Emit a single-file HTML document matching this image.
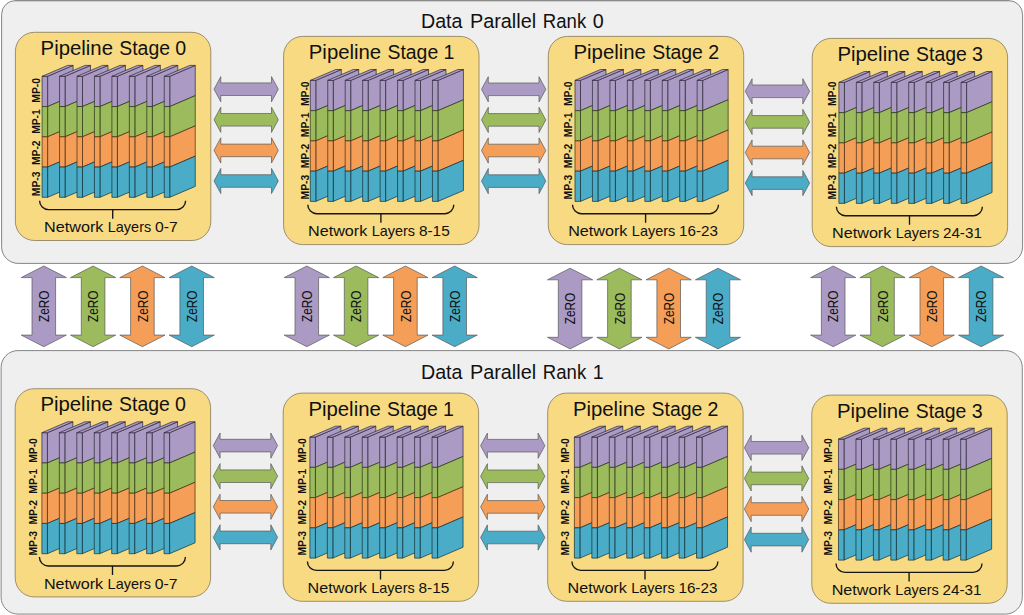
<!DOCTYPE html>
<html lang="en"><head><meta charset="utf-8"><title>3D parallelism</title>
<style>html,body{margin:0;padding:0;background:#fff;}body{width:1024px;height:615px;overflow:hidden;}svg{display:block;}text{font-family:'Liberation Sans', sans-serif;fill:#111;}</style>
</head><body>
<svg width="1024" height="615" viewBox="0 0 1024 615">
<rect x="0" y="0" width="1024" height="615" fill="#fff"/>
<path d="M1.6,30 V14.4 A13.8,13.8 0 0 1 15.4,0.6 H1008.8 A13.8,13.8 0 0 1 1022.6,14.4 V246.8 A16.6,16.6 0 0 1 1006,263.4 H18.2 A16.6,16.6 0 0 1 1.6,246.8 Z" fill="#EFEFEF" stroke="#858585" stroke-width="1"/>
<path d="M15,0.55 H1009" fill="none" stroke="#8a8a8a" stroke-width="1.3"/>
<text y="28.4" font-size="19.7"><tspan x="421" textLength="41.5" lengthAdjust="spacingAndGlyphs">Data</tspan> <tspan x="469.9" textLength="66.3" lengthAdjust="spacingAndGlyphs">Parallel</tspan> <tspan x="542.8" textLength="43.4" lengthAdjust="spacingAndGlyphs">Rank</tspan> <tspan x="598.3" text-anchor="middle">0</tspan></text>
<g transform="translate(15.4,32.3)">
<rect x="0" y="0" width="195.4" height="208.2" rx="19" ry="19" fill="#F8DA82" stroke="#857a58" stroke-width="0.8"/>
<text y="22.5" font-size="19.6"><tspan x="25.2" textLength="72.4" lengthAdjust="spacingAndGlyphs">Pipeline</tspan> <tspan x="103.9" textLength="50.7" lengthAdjust="spacingAndGlyphs">Stage</tspan> <tspan x="165.3" text-anchor="middle">0</tspan></text>
<g stroke-width="0.72" stroke-linejoin="round"><polygon points="32.2,44 57.7,33.1 57.7,63.35 32.2,74.25" fill="#AB9AC3" stroke="#2e2a3a"/><polygon points="32.2,74.25 57.7,63.35 57.7,93.6 32.2,104.5" fill="#9BBB5C" stroke="#2b3618"/><polygon points="32.2,104.5 57.7,93.6 57.7,123.85 32.2,134.75" fill="#F59E57" stroke="#4a2d16"/><polygon points="32.2,134.75 57.7,123.85 57.7,154.1 32.2,165" fill="#4AACC6" stroke="#12323b"/><rect x="26.7" y="44" width="5.5" height="30.25" fill="#AB9AC3" stroke="#2e2a3a"/><rect x="26.7" y="74.25" width="5.5" height="30.25" fill="#9BBB5C" stroke="#2b3618"/><rect x="26.7" y="104.5" width="5.5" height="30.25" fill="#F59E57" stroke="#4a2d16"/><rect x="26.7" y="134.75" width="5.5" height="30.25" fill="#4AACC6" stroke="#12323b"/><polygon points="26.7,44 32.2,44 57.7,33.1 52.2,33.1" fill="#AE9DC6" stroke="#2e2a3a"/><polygon points="49.65,44 75.15,33.1 75.15,63.35 49.65,74.25" fill="#AB9AC3" stroke="#2e2a3a"/><polygon points="49.65,74.25 75.15,63.35 75.15,93.6 49.65,104.5" fill="#9BBB5C" stroke="#2b3618"/><polygon points="49.65,104.5 75.15,93.6 75.15,123.85 49.65,134.75" fill="#F59E57" stroke="#4a2d16"/><polygon points="49.65,134.75 75.15,123.85 75.15,154.1 49.65,165" fill="#4AACC6" stroke="#12323b"/><rect x="44.15" y="44" width="5.5" height="30.25" fill="#AB9AC3" stroke="#2e2a3a"/><rect x="44.15" y="74.25" width="5.5" height="30.25" fill="#9BBB5C" stroke="#2b3618"/><rect x="44.15" y="104.5" width="5.5" height="30.25" fill="#F59E57" stroke="#4a2d16"/><rect x="44.15" y="134.75" width="5.5" height="30.25" fill="#4AACC6" stroke="#12323b"/><polygon points="44.15,44 49.65,44 75.15,33.1 69.65,33.1" fill="#AE9DC6" stroke="#2e2a3a"/><polygon points="67.1,44 92.6,33.1 92.6,63.35 67.1,74.25" fill="#AB9AC3" stroke="#2e2a3a"/><polygon points="67.1,74.25 92.6,63.35 92.6,93.6 67.1,104.5" fill="#9BBB5C" stroke="#2b3618"/><polygon points="67.1,104.5 92.6,93.6 92.6,123.85 67.1,134.75" fill="#F59E57" stroke="#4a2d16"/><polygon points="67.1,134.75 92.6,123.85 92.6,154.1 67.1,165" fill="#4AACC6" stroke="#12323b"/><rect x="61.6" y="44" width="5.5" height="30.25" fill="#AB9AC3" stroke="#2e2a3a"/><rect x="61.6" y="74.25" width="5.5" height="30.25" fill="#9BBB5C" stroke="#2b3618"/><rect x="61.6" y="104.5" width="5.5" height="30.25" fill="#F59E57" stroke="#4a2d16"/><rect x="61.6" y="134.75" width="5.5" height="30.25" fill="#4AACC6" stroke="#12323b"/><polygon points="61.6,44 67.1,44 92.6,33.1 87.1,33.1" fill="#AE9DC6" stroke="#2e2a3a"/><polygon points="84.55,44 110.05,33.1 110.05,63.35 84.55,74.25" fill="#AB9AC3" stroke="#2e2a3a"/><polygon points="84.55,74.25 110.05,63.35 110.05,93.6 84.55,104.5" fill="#9BBB5C" stroke="#2b3618"/><polygon points="84.55,104.5 110.05,93.6 110.05,123.85 84.55,134.75" fill="#F59E57" stroke="#4a2d16"/><polygon points="84.55,134.75 110.05,123.85 110.05,154.1 84.55,165" fill="#4AACC6" stroke="#12323b"/><rect x="79.05" y="44" width="5.5" height="30.25" fill="#AB9AC3" stroke="#2e2a3a"/><rect x="79.05" y="74.25" width="5.5" height="30.25" fill="#9BBB5C" stroke="#2b3618"/><rect x="79.05" y="104.5" width="5.5" height="30.25" fill="#F59E57" stroke="#4a2d16"/><rect x="79.05" y="134.75" width="5.5" height="30.25" fill="#4AACC6" stroke="#12323b"/><polygon points="79.05,44 84.55,44 110.05,33.1 104.55,33.1" fill="#AE9DC6" stroke="#2e2a3a"/><polygon points="102,44 127.5,33.1 127.5,63.35 102,74.25" fill="#AB9AC3" stroke="#2e2a3a"/><polygon points="102,74.25 127.5,63.35 127.5,93.6 102,104.5" fill="#9BBB5C" stroke="#2b3618"/><polygon points="102,104.5 127.5,93.6 127.5,123.85 102,134.75" fill="#F59E57" stroke="#4a2d16"/><polygon points="102,134.75 127.5,123.85 127.5,154.1 102,165" fill="#4AACC6" stroke="#12323b"/><rect x="96.5" y="44" width="5.5" height="30.25" fill="#AB9AC3" stroke="#2e2a3a"/><rect x="96.5" y="74.25" width="5.5" height="30.25" fill="#9BBB5C" stroke="#2b3618"/><rect x="96.5" y="104.5" width="5.5" height="30.25" fill="#F59E57" stroke="#4a2d16"/><rect x="96.5" y="134.75" width="5.5" height="30.25" fill="#4AACC6" stroke="#12323b"/><polygon points="96.5,44 102,44 127.5,33.1 122,33.1" fill="#AE9DC6" stroke="#2e2a3a"/><polygon points="119.45,44 144.95,33.1 144.95,63.35 119.45,74.25" fill="#AB9AC3" stroke="#2e2a3a"/><polygon points="119.45,74.25 144.95,63.35 144.95,93.6 119.45,104.5" fill="#9BBB5C" stroke="#2b3618"/><polygon points="119.45,104.5 144.95,93.6 144.95,123.85 119.45,134.75" fill="#F59E57" stroke="#4a2d16"/><polygon points="119.45,134.75 144.95,123.85 144.95,154.1 119.45,165" fill="#4AACC6" stroke="#12323b"/><rect x="113.95" y="44" width="5.5" height="30.25" fill="#AB9AC3" stroke="#2e2a3a"/><rect x="113.95" y="74.25" width="5.5" height="30.25" fill="#9BBB5C" stroke="#2b3618"/><rect x="113.95" y="104.5" width="5.5" height="30.25" fill="#F59E57" stroke="#4a2d16"/><rect x="113.95" y="134.75" width="5.5" height="30.25" fill="#4AACC6" stroke="#12323b"/><polygon points="113.95,44 119.45,44 144.95,33.1 139.45,33.1" fill="#AE9DC6" stroke="#2e2a3a"/><polygon points="136.9,44 162.4,33.1 162.4,63.35 136.9,74.25" fill="#AB9AC3" stroke="#2e2a3a"/><polygon points="136.9,74.25 162.4,63.35 162.4,93.6 136.9,104.5" fill="#9BBB5C" stroke="#2b3618"/><polygon points="136.9,104.5 162.4,93.6 162.4,123.85 136.9,134.75" fill="#F59E57" stroke="#4a2d16"/><polygon points="136.9,134.75 162.4,123.85 162.4,154.1 136.9,165" fill="#4AACC6" stroke="#12323b"/><rect x="131.4" y="44" width="5.5" height="30.25" fill="#AB9AC3" stroke="#2e2a3a"/><rect x="131.4" y="74.25" width="5.5" height="30.25" fill="#9BBB5C" stroke="#2b3618"/><rect x="131.4" y="104.5" width="5.5" height="30.25" fill="#F59E57" stroke="#4a2d16"/><rect x="131.4" y="134.75" width="5.5" height="30.25" fill="#4AACC6" stroke="#12323b"/><polygon points="131.4,44 136.9,44 162.4,33.1 156.9,33.1" fill="#AE9DC6" stroke="#2e2a3a"/><polygon points="154.35,44 179.85,33.1 179.85,63.35 154.35,74.25" fill="#AB9AC3" stroke="#2e2a3a"/><polygon points="154.35,74.25 179.85,63.35 179.85,93.6 154.35,104.5" fill="#9BBB5C" stroke="#2b3618"/><polygon points="154.35,104.5 179.85,93.6 179.85,123.85 154.35,134.75" fill="#F59E57" stroke="#4a2d16"/><polygon points="154.35,134.75 179.85,123.85 179.85,154.1 154.35,165" fill="#4AACC6" stroke="#12323b"/><rect x="148.85" y="44" width="5.5" height="30.25" fill="#AB9AC3" stroke="#2e2a3a"/><rect x="148.85" y="74.25" width="5.5" height="30.25" fill="#9BBB5C" stroke="#2b3618"/><rect x="148.85" y="104.5" width="5.5" height="30.25" fill="#F59E57" stroke="#4a2d16"/><rect x="148.85" y="134.75" width="5.5" height="30.25" fill="#4AACC6" stroke="#12323b"/><polygon points="148.85,44 154.35,44 179.85,33.1 174.35,33.1" fill="#AE9DC6" stroke="#2e2a3a"/></g>
<path d="M24.2,168.4 A8.9,8.9 0 0 0 33.1,177.3 H161.3 A8.9,8.9 0 0 0 170.2,168.4 M97.3,177.3 V186.4" fill="none" stroke="#151515" stroke-width="1.35"/>
<text y="200" font-size="14.4"><tspan x="28.7" textLength="59.3" lengthAdjust="spacingAndGlyphs">Network</tspan> <tspan x="92.4" textLength="43.4" lengthAdjust="spacingAndGlyphs">Layers</tspan> <tspan x="139.6" textLength="22.8" lengthAdjust="spacingAndGlyphs">0-7</tspan></text>
</g>
<text transform="translate(39.5,90.4) rotate(-90)" font-size="10" font-weight="bold" text-anchor="middle" textLength="24.6" lengthAdjust="spacingAndGlyphs">MP-0</text>
<text transform="translate(39.5,121.55) rotate(-90)" font-size="10" font-weight="bold" text-anchor="middle" textLength="24.6" lengthAdjust="spacingAndGlyphs">MP-1</text>
<text transform="translate(39.5,152.7) rotate(-90)" font-size="10" font-weight="bold" text-anchor="middle" textLength="24.6" lengthAdjust="spacingAndGlyphs">MP-2</text>
<text transform="translate(39.5,183.85) rotate(-90)" font-size="10" font-weight="bold" text-anchor="middle" textLength="24.6" lengthAdjust="spacingAndGlyphs">MP-3</text>
<g transform="translate(283.6,36.4)">
<rect x="0" y="0" width="195.4" height="208.2" rx="19" ry="19" fill="#F8DA82" stroke="#857a58" stroke-width="0.8"/>
<text y="22.5" font-size="19.6"><tspan x="25.2" textLength="72.4" lengthAdjust="spacingAndGlyphs">Pipeline</tspan> <tspan x="103.9" textLength="50.7" lengthAdjust="spacingAndGlyphs">Stage</tspan> <tspan x="165.3" text-anchor="middle">1</tspan></text>
<g stroke-width="0.72" stroke-linejoin="round"><polygon points="32.2,44 57.7,33.1 57.7,63.35 32.2,74.25" fill="#AB9AC3" stroke="#2e2a3a"/><polygon points="32.2,74.25 57.7,63.35 57.7,93.6 32.2,104.5" fill="#9BBB5C" stroke="#2b3618"/><polygon points="32.2,104.5 57.7,93.6 57.7,123.85 32.2,134.75" fill="#F59E57" stroke="#4a2d16"/><polygon points="32.2,134.75 57.7,123.85 57.7,154.1 32.2,165" fill="#4AACC6" stroke="#12323b"/><rect x="26.7" y="44" width="5.5" height="30.25" fill="#AB9AC3" stroke="#2e2a3a"/><rect x="26.7" y="74.25" width="5.5" height="30.25" fill="#9BBB5C" stroke="#2b3618"/><rect x="26.7" y="104.5" width="5.5" height="30.25" fill="#F59E57" stroke="#4a2d16"/><rect x="26.7" y="134.75" width="5.5" height="30.25" fill="#4AACC6" stroke="#12323b"/><polygon points="26.7,44 32.2,44 57.7,33.1 52.2,33.1" fill="#AE9DC6" stroke="#2e2a3a"/><polygon points="49.65,44 75.15,33.1 75.15,63.35 49.65,74.25" fill="#AB9AC3" stroke="#2e2a3a"/><polygon points="49.65,74.25 75.15,63.35 75.15,93.6 49.65,104.5" fill="#9BBB5C" stroke="#2b3618"/><polygon points="49.65,104.5 75.15,93.6 75.15,123.85 49.65,134.75" fill="#F59E57" stroke="#4a2d16"/><polygon points="49.65,134.75 75.15,123.85 75.15,154.1 49.65,165" fill="#4AACC6" stroke="#12323b"/><rect x="44.15" y="44" width="5.5" height="30.25" fill="#AB9AC3" stroke="#2e2a3a"/><rect x="44.15" y="74.25" width="5.5" height="30.25" fill="#9BBB5C" stroke="#2b3618"/><rect x="44.15" y="104.5" width="5.5" height="30.25" fill="#F59E57" stroke="#4a2d16"/><rect x="44.15" y="134.75" width="5.5" height="30.25" fill="#4AACC6" stroke="#12323b"/><polygon points="44.15,44 49.65,44 75.15,33.1 69.65,33.1" fill="#AE9DC6" stroke="#2e2a3a"/><polygon points="67.1,44 92.6,33.1 92.6,63.35 67.1,74.25" fill="#AB9AC3" stroke="#2e2a3a"/><polygon points="67.1,74.25 92.6,63.35 92.6,93.6 67.1,104.5" fill="#9BBB5C" stroke="#2b3618"/><polygon points="67.1,104.5 92.6,93.6 92.6,123.85 67.1,134.75" fill="#F59E57" stroke="#4a2d16"/><polygon points="67.1,134.75 92.6,123.85 92.6,154.1 67.1,165" fill="#4AACC6" stroke="#12323b"/><rect x="61.6" y="44" width="5.5" height="30.25" fill="#AB9AC3" stroke="#2e2a3a"/><rect x="61.6" y="74.25" width="5.5" height="30.25" fill="#9BBB5C" stroke="#2b3618"/><rect x="61.6" y="104.5" width="5.5" height="30.25" fill="#F59E57" stroke="#4a2d16"/><rect x="61.6" y="134.75" width="5.5" height="30.25" fill="#4AACC6" stroke="#12323b"/><polygon points="61.6,44 67.1,44 92.6,33.1 87.1,33.1" fill="#AE9DC6" stroke="#2e2a3a"/><polygon points="84.55,44 110.05,33.1 110.05,63.35 84.55,74.25" fill="#AB9AC3" stroke="#2e2a3a"/><polygon points="84.55,74.25 110.05,63.35 110.05,93.6 84.55,104.5" fill="#9BBB5C" stroke="#2b3618"/><polygon points="84.55,104.5 110.05,93.6 110.05,123.85 84.55,134.75" fill="#F59E57" stroke="#4a2d16"/><polygon points="84.55,134.75 110.05,123.85 110.05,154.1 84.55,165" fill="#4AACC6" stroke="#12323b"/><rect x="79.05" y="44" width="5.5" height="30.25" fill="#AB9AC3" stroke="#2e2a3a"/><rect x="79.05" y="74.25" width="5.5" height="30.25" fill="#9BBB5C" stroke="#2b3618"/><rect x="79.05" y="104.5" width="5.5" height="30.25" fill="#F59E57" stroke="#4a2d16"/><rect x="79.05" y="134.75" width="5.5" height="30.25" fill="#4AACC6" stroke="#12323b"/><polygon points="79.05,44 84.55,44 110.05,33.1 104.55,33.1" fill="#AE9DC6" stroke="#2e2a3a"/><polygon points="102,44 127.5,33.1 127.5,63.35 102,74.25" fill="#AB9AC3" stroke="#2e2a3a"/><polygon points="102,74.25 127.5,63.35 127.5,93.6 102,104.5" fill="#9BBB5C" stroke="#2b3618"/><polygon points="102,104.5 127.5,93.6 127.5,123.85 102,134.75" fill="#F59E57" stroke="#4a2d16"/><polygon points="102,134.75 127.5,123.85 127.5,154.1 102,165" fill="#4AACC6" stroke="#12323b"/><rect x="96.5" y="44" width="5.5" height="30.25" fill="#AB9AC3" stroke="#2e2a3a"/><rect x="96.5" y="74.25" width="5.5" height="30.25" fill="#9BBB5C" stroke="#2b3618"/><rect x="96.5" y="104.5" width="5.5" height="30.25" fill="#F59E57" stroke="#4a2d16"/><rect x="96.5" y="134.75" width="5.5" height="30.25" fill="#4AACC6" stroke="#12323b"/><polygon points="96.5,44 102,44 127.5,33.1 122,33.1" fill="#AE9DC6" stroke="#2e2a3a"/><polygon points="119.45,44 144.95,33.1 144.95,63.35 119.45,74.25" fill="#AB9AC3" stroke="#2e2a3a"/><polygon points="119.45,74.25 144.95,63.35 144.95,93.6 119.45,104.5" fill="#9BBB5C" stroke="#2b3618"/><polygon points="119.45,104.5 144.95,93.6 144.95,123.85 119.45,134.75" fill="#F59E57" stroke="#4a2d16"/><polygon points="119.45,134.75 144.95,123.85 144.95,154.1 119.45,165" fill="#4AACC6" stroke="#12323b"/><rect x="113.95" y="44" width="5.5" height="30.25" fill="#AB9AC3" stroke="#2e2a3a"/><rect x="113.95" y="74.25" width="5.5" height="30.25" fill="#9BBB5C" stroke="#2b3618"/><rect x="113.95" y="104.5" width="5.5" height="30.25" fill="#F59E57" stroke="#4a2d16"/><rect x="113.95" y="134.75" width="5.5" height="30.25" fill="#4AACC6" stroke="#12323b"/><polygon points="113.95,44 119.45,44 144.95,33.1 139.45,33.1" fill="#AE9DC6" stroke="#2e2a3a"/><polygon points="136.9,44 162.4,33.1 162.4,63.35 136.9,74.25" fill="#AB9AC3" stroke="#2e2a3a"/><polygon points="136.9,74.25 162.4,63.35 162.4,93.6 136.9,104.5" fill="#9BBB5C" stroke="#2b3618"/><polygon points="136.9,104.5 162.4,93.6 162.4,123.85 136.9,134.75" fill="#F59E57" stroke="#4a2d16"/><polygon points="136.9,134.75 162.4,123.85 162.4,154.1 136.9,165" fill="#4AACC6" stroke="#12323b"/><rect x="131.4" y="44" width="5.5" height="30.25" fill="#AB9AC3" stroke="#2e2a3a"/><rect x="131.4" y="74.25" width="5.5" height="30.25" fill="#9BBB5C" stroke="#2b3618"/><rect x="131.4" y="104.5" width="5.5" height="30.25" fill="#F59E57" stroke="#4a2d16"/><rect x="131.4" y="134.75" width="5.5" height="30.25" fill="#4AACC6" stroke="#12323b"/><polygon points="131.4,44 136.9,44 162.4,33.1 156.9,33.1" fill="#AE9DC6" stroke="#2e2a3a"/><polygon points="154.35,44 179.85,33.1 179.85,63.35 154.35,74.25" fill="#AB9AC3" stroke="#2e2a3a"/><polygon points="154.35,74.25 179.85,63.35 179.85,93.6 154.35,104.5" fill="#9BBB5C" stroke="#2b3618"/><polygon points="154.35,104.5 179.85,93.6 179.85,123.85 154.35,134.75" fill="#F59E57" stroke="#4a2d16"/><polygon points="154.35,134.75 179.85,123.85 179.85,154.1 154.35,165" fill="#4AACC6" stroke="#12323b"/><rect x="148.85" y="44" width="5.5" height="30.25" fill="#AB9AC3" stroke="#2e2a3a"/><rect x="148.85" y="74.25" width="5.5" height="30.25" fill="#9BBB5C" stroke="#2b3618"/><rect x="148.85" y="104.5" width="5.5" height="30.25" fill="#F59E57" stroke="#4a2d16"/><rect x="148.85" y="134.75" width="5.5" height="30.25" fill="#4AACC6" stroke="#12323b"/><polygon points="148.85,44 154.35,44 179.85,33.1 174.35,33.1" fill="#AE9DC6" stroke="#2e2a3a"/></g>
<path d="M24.2,168.4 A8.9,8.9 0 0 0 33.1,177.3 H161.3 A8.9,8.9 0 0 0 170.2,168.4 M97.3,177.3 V186.4" fill="none" stroke="#151515" stroke-width="1.35"/>
<text y="200" font-size="14.4"><tspan x="24.4" textLength="59.3" lengthAdjust="spacingAndGlyphs">Network</tspan> <tspan x="88.1" textLength="43.4" lengthAdjust="spacingAndGlyphs">Layers</tspan> <tspan x="135.3" textLength="30.8" lengthAdjust="spacingAndGlyphs">8-15</tspan></text>
</g>
<text transform="translate(308.8,93.7) rotate(-90)" font-size="10" font-weight="bold" text-anchor="middle" textLength="24.6" lengthAdjust="spacingAndGlyphs">MP-0</text>
<text transform="translate(308.8,124.85) rotate(-90)" font-size="10" font-weight="bold" text-anchor="middle" textLength="24.6" lengthAdjust="spacingAndGlyphs">MP-1</text>
<text transform="translate(308.8,156) rotate(-90)" font-size="10" font-weight="bold" text-anchor="middle" textLength="24.6" lengthAdjust="spacingAndGlyphs">MP-2</text>
<text transform="translate(308.8,187.15) rotate(-90)" font-size="10" font-weight="bold" text-anchor="middle" textLength="24.6" lengthAdjust="spacingAndGlyphs">MP-3</text>
<g transform="translate(548.3,36.4)">
<rect x="0" y="0" width="195.4" height="208.2" rx="19" ry="19" fill="#F8DA82" stroke="#857a58" stroke-width="0.8"/>
<text y="22.5" font-size="19.6"><tspan x="25.2" textLength="72.4" lengthAdjust="spacingAndGlyphs">Pipeline</tspan> <tspan x="103.9" textLength="50.7" lengthAdjust="spacingAndGlyphs">Stage</tspan> <tspan x="165.3" text-anchor="middle">2</tspan></text>
<g stroke-width="0.72" stroke-linejoin="round"><polygon points="32.2,44 57.7,33.1 57.7,63.35 32.2,74.25" fill="#AB9AC3" stroke="#2e2a3a"/><polygon points="32.2,74.25 57.7,63.35 57.7,93.6 32.2,104.5" fill="#9BBB5C" stroke="#2b3618"/><polygon points="32.2,104.5 57.7,93.6 57.7,123.85 32.2,134.75" fill="#F59E57" stroke="#4a2d16"/><polygon points="32.2,134.75 57.7,123.85 57.7,154.1 32.2,165" fill="#4AACC6" stroke="#12323b"/><rect x="26.7" y="44" width="5.5" height="30.25" fill="#AB9AC3" stroke="#2e2a3a"/><rect x="26.7" y="74.25" width="5.5" height="30.25" fill="#9BBB5C" stroke="#2b3618"/><rect x="26.7" y="104.5" width="5.5" height="30.25" fill="#F59E57" stroke="#4a2d16"/><rect x="26.7" y="134.75" width="5.5" height="30.25" fill="#4AACC6" stroke="#12323b"/><polygon points="26.7,44 32.2,44 57.7,33.1 52.2,33.1" fill="#AE9DC6" stroke="#2e2a3a"/><polygon points="49.65,44 75.15,33.1 75.15,63.35 49.65,74.25" fill="#AB9AC3" stroke="#2e2a3a"/><polygon points="49.65,74.25 75.15,63.35 75.15,93.6 49.65,104.5" fill="#9BBB5C" stroke="#2b3618"/><polygon points="49.65,104.5 75.15,93.6 75.15,123.85 49.65,134.75" fill="#F59E57" stroke="#4a2d16"/><polygon points="49.65,134.75 75.15,123.85 75.15,154.1 49.65,165" fill="#4AACC6" stroke="#12323b"/><rect x="44.15" y="44" width="5.5" height="30.25" fill="#AB9AC3" stroke="#2e2a3a"/><rect x="44.15" y="74.25" width="5.5" height="30.25" fill="#9BBB5C" stroke="#2b3618"/><rect x="44.15" y="104.5" width="5.5" height="30.25" fill="#F59E57" stroke="#4a2d16"/><rect x="44.15" y="134.75" width="5.5" height="30.25" fill="#4AACC6" stroke="#12323b"/><polygon points="44.15,44 49.65,44 75.15,33.1 69.65,33.1" fill="#AE9DC6" stroke="#2e2a3a"/><polygon points="67.1,44 92.6,33.1 92.6,63.35 67.1,74.25" fill="#AB9AC3" stroke="#2e2a3a"/><polygon points="67.1,74.25 92.6,63.35 92.6,93.6 67.1,104.5" fill="#9BBB5C" stroke="#2b3618"/><polygon points="67.1,104.5 92.6,93.6 92.6,123.85 67.1,134.75" fill="#F59E57" stroke="#4a2d16"/><polygon points="67.1,134.75 92.6,123.85 92.6,154.1 67.1,165" fill="#4AACC6" stroke="#12323b"/><rect x="61.6" y="44" width="5.5" height="30.25" fill="#AB9AC3" stroke="#2e2a3a"/><rect x="61.6" y="74.25" width="5.5" height="30.25" fill="#9BBB5C" stroke="#2b3618"/><rect x="61.6" y="104.5" width="5.5" height="30.25" fill="#F59E57" stroke="#4a2d16"/><rect x="61.6" y="134.75" width="5.5" height="30.25" fill="#4AACC6" stroke="#12323b"/><polygon points="61.6,44 67.1,44 92.6,33.1 87.1,33.1" fill="#AE9DC6" stroke="#2e2a3a"/><polygon points="84.55,44 110.05,33.1 110.05,63.35 84.55,74.25" fill="#AB9AC3" stroke="#2e2a3a"/><polygon points="84.55,74.25 110.05,63.35 110.05,93.6 84.55,104.5" fill="#9BBB5C" stroke="#2b3618"/><polygon points="84.55,104.5 110.05,93.6 110.05,123.85 84.55,134.75" fill="#F59E57" stroke="#4a2d16"/><polygon points="84.55,134.75 110.05,123.85 110.05,154.1 84.55,165" fill="#4AACC6" stroke="#12323b"/><rect x="79.05" y="44" width="5.5" height="30.25" fill="#AB9AC3" stroke="#2e2a3a"/><rect x="79.05" y="74.25" width="5.5" height="30.25" fill="#9BBB5C" stroke="#2b3618"/><rect x="79.05" y="104.5" width="5.5" height="30.25" fill="#F59E57" stroke="#4a2d16"/><rect x="79.05" y="134.75" width="5.5" height="30.25" fill="#4AACC6" stroke="#12323b"/><polygon points="79.05,44 84.55,44 110.05,33.1 104.55,33.1" fill="#AE9DC6" stroke="#2e2a3a"/><polygon points="102,44 127.5,33.1 127.5,63.35 102,74.25" fill="#AB9AC3" stroke="#2e2a3a"/><polygon points="102,74.25 127.5,63.35 127.5,93.6 102,104.5" fill="#9BBB5C" stroke="#2b3618"/><polygon points="102,104.5 127.5,93.6 127.5,123.85 102,134.75" fill="#F59E57" stroke="#4a2d16"/><polygon points="102,134.75 127.5,123.85 127.5,154.1 102,165" fill="#4AACC6" stroke="#12323b"/><rect x="96.5" y="44" width="5.5" height="30.25" fill="#AB9AC3" stroke="#2e2a3a"/><rect x="96.5" y="74.25" width="5.5" height="30.25" fill="#9BBB5C" stroke="#2b3618"/><rect x="96.5" y="104.5" width="5.5" height="30.25" fill="#F59E57" stroke="#4a2d16"/><rect x="96.5" y="134.75" width="5.5" height="30.25" fill="#4AACC6" stroke="#12323b"/><polygon points="96.5,44 102,44 127.5,33.1 122,33.1" fill="#AE9DC6" stroke="#2e2a3a"/><polygon points="119.45,44 144.95,33.1 144.95,63.35 119.45,74.25" fill="#AB9AC3" stroke="#2e2a3a"/><polygon points="119.45,74.25 144.95,63.35 144.95,93.6 119.45,104.5" fill="#9BBB5C" stroke="#2b3618"/><polygon points="119.45,104.5 144.95,93.6 144.95,123.85 119.45,134.75" fill="#F59E57" stroke="#4a2d16"/><polygon points="119.45,134.75 144.95,123.85 144.95,154.1 119.45,165" fill="#4AACC6" stroke="#12323b"/><rect x="113.95" y="44" width="5.5" height="30.25" fill="#AB9AC3" stroke="#2e2a3a"/><rect x="113.95" y="74.25" width="5.5" height="30.25" fill="#9BBB5C" stroke="#2b3618"/><rect x="113.95" y="104.5" width="5.5" height="30.25" fill="#F59E57" stroke="#4a2d16"/><rect x="113.95" y="134.75" width="5.5" height="30.25" fill="#4AACC6" stroke="#12323b"/><polygon points="113.95,44 119.45,44 144.95,33.1 139.45,33.1" fill="#AE9DC6" stroke="#2e2a3a"/><polygon points="136.9,44 162.4,33.1 162.4,63.35 136.9,74.25" fill="#AB9AC3" stroke="#2e2a3a"/><polygon points="136.9,74.25 162.4,63.35 162.4,93.6 136.9,104.5" fill="#9BBB5C" stroke="#2b3618"/><polygon points="136.9,104.5 162.4,93.6 162.4,123.85 136.9,134.75" fill="#F59E57" stroke="#4a2d16"/><polygon points="136.9,134.75 162.4,123.85 162.4,154.1 136.9,165" fill="#4AACC6" stroke="#12323b"/><rect x="131.4" y="44" width="5.5" height="30.25" fill="#AB9AC3" stroke="#2e2a3a"/><rect x="131.4" y="74.25" width="5.5" height="30.25" fill="#9BBB5C" stroke="#2b3618"/><rect x="131.4" y="104.5" width="5.5" height="30.25" fill="#F59E57" stroke="#4a2d16"/><rect x="131.4" y="134.75" width="5.5" height="30.25" fill="#4AACC6" stroke="#12323b"/><polygon points="131.4,44 136.9,44 162.4,33.1 156.9,33.1" fill="#AE9DC6" stroke="#2e2a3a"/><polygon points="154.35,44 179.85,33.1 179.85,63.35 154.35,74.25" fill="#AB9AC3" stroke="#2e2a3a"/><polygon points="154.35,74.25 179.85,63.35 179.85,93.6 154.35,104.5" fill="#9BBB5C" stroke="#2b3618"/><polygon points="154.35,104.5 179.85,93.6 179.85,123.85 154.35,134.75" fill="#F59E57" stroke="#4a2d16"/><polygon points="154.35,134.75 179.85,123.85 179.85,154.1 154.35,165" fill="#4AACC6" stroke="#12323b"/><rect x="148.85" y="44" width="5.5" height="30.25" fill="#AB9AC3" stroke="#2e2a3a"/><rect x="148.85" y="74.25" width="5.5" height="30.25" fill="#9BBB5C" stroke="#2b3618"/><rect x="148.85" y="104.5" width="5.5" height="30.25" fill="#F59E57" stroke="#4a2d16"/><rect x="148.85" y="134.75" width="5.5" height="30.25" fill="#4AACC6" stroke="#12323b"/><polygon points="148.85,44 154.35,44 179.85,33.1 174.35,33.1" fill="#AE9DC6" stroke="#2e2a3a"/></g>
<path d="M24.2,168.4 A8.9,8.9 0 0 0 33.1,177.3 H161.3 A8.9,8.9 0 0 0 170.2,168.4 M97.3,177.3 V186.4" fill="none" stroke="#151515" stroke-width="1.35"/>
<text y="200" font-size="14.4"><tspan x="19.85" textLength="59.3" lengthAdjust="spacingAndGlyphs">Network</tspan> <tspan x="83.55" textLength="43.4" lengthAdjust="spacingAndGlyphs">Layers</tspan> <tspan x="130.75" textLength="38.9" lengthAdjust="spacingAndGlyphs">16-23</tspan></text>
</g>
<text transform="translate(571.9,93.7) rotate(-90)" font-size="10" font-weight="bold" text-anchor="middle" textLength="24.6" lengthAdjust="spacingAndGlyphs">MP-0</text>
<text transform="translate(571.9,124.85) rotate(-90)" font-size="10" font-weight="bold" text-anchor="middle" textLength="24.6" lengthAdjust="spacingAndGlyphs">MP-1</text>
<text transform="translate(571.9,156) rotate(-90)" font-size="10" font-weight="bold" text-anchor="middle" textLength="24.6" lengthAdjust="spacingAndGlyphs">MP-2</text>
<text transform="translate(571.9,187.15) rotate(-90)" font-size="10" font-weight="bold" text-anchor="middle" textLength="24.6" lengthAdjust="spacingAndGlyphs">MP-3</text>
<g transform="translate(812.2,38.4)">
<rect x="0" y="0" width="195.4" height="208.2" rx="19" ry="19" fill="#F8DA82" stroke="#857a58" stroke-width="0.8"/>
<text y="22.5" font-size="19.6"><tspan x="25.2" textLength="72.4" lengthAdjust="spacingAndGlyphs">Pipeline</tspan> <tspan x="103.9" textLength="50.7" lengthAdjust="spacingAndGlyphs">Stage</tspan> <tspan x="165.3" text-anchor="middle">3</tspan></text>
<g stroke-width="0.72" stroke-linejoin="round"><polygon points="32.2,44 57.7,33.1 57.7,63.35 32.2,74.25" fill="#AB9AC3" stroke="#2e2a3a"/><polygon points="32.2,74.25 57.7,63.35 57.7,93.6 32.2,104.5" fill="#9BBB5C" stroke="#2b3618"/><polygon points="32.2,104.5 57.7,93.6 57.7,123.85 32.2,134.75" fill="#F59E57" stroke="#4a2d16"/><polygon points="32.2,134.75 57.7,123.85 57.7,154.1 32.2,165" fill="#4AACC6" stroke="#12323b"/><rect x="26.7" y="44" width="5.5" height="30.25" fill="#AB9AC3" stroke="#2e2a3a"/><rect x="26.7" y="74.25" width="5.5" height="30.25" fill="#9BBB5C" stroke="#2b3618"/><rect x="26.7" y="104.5" width="5.5" height="30.25" fill="#F59E57" stroke="#4a2d16"/><rect x="26.7" y="134.75" width="5.5" height="30.25" fill="#4AACC6" stroke="#12323b"/><polygon points="26.7,44 32.2,44 57.7,33.1 52.2,33.1" fill="#AE9DC6" stroke="#2e2a3a"/><polygon points="49.65,44 75.15,33.1 75.15,63.35 49.65,74.25" fill="#AB9AC3" stroke="#2e2a3a"/><polygon points="49.65,74.25 75.15,63.35 75.15,93.6 49.65,104.5" fill="#9BBB5C" stroke="#2b3618"/><polygon points="49.65,104.5 75.15,93.6 75.15,123.85 49.65,134.75" fill="#F59E57" stroke="#4a2d16"/><polygon points="49.65,134.75 75.15,123.85 75.15,154.1 49.65,165" fill="#4AACC6" stroke="#12323b"/><rect x="44.15" y="44" width="5.5" height="30.25" fill="#AB9AC3" stroke="#2e2a3a"/><rect x="44.15" y="74.25" width="5.5" height="30.25" fill="#9BBB5C" stroke="#2b3618"/><rect x="44.15" y="104.5" width="5.5" height="30.25" fill="#F59E57" stroke="#4a2d16"/><rect x="44.15" y="134.75" width="5.5" height="30.25" fill="#4AACC6" stroke="#12323b"/><polygon points="44.15,44 49.65,44 75.15,33.1 69.65,33.1" fill="#AE9DC6" stroke="#2e2a3a"/><polygon points="67.1,44 92.6,33.1 92.6,63.35 67.1,74.25" fill="#AB9AC3" stroke="#2e2a3a"/><polygon points="67.1,74.25 92.6,63.35 92.6,93.6 67.1,104.5" fill="#9BBB5C" stroke="#2b3618"/><polygon points="67.1,104.5 92.6,93.6 92.6,123.85 67.1,134.75" fill="#F59E57" stroke="#4a2d16"/><polygon points="67.1,134.75 92.6,123.85 92.6,154.1 67.1,165" fill="#4AACC6" stroke="#12323b"/><rect x="61.6" y="44" width="5.5" height="30.25" fill="#AB9AC3" stroke="#2e2a3a"/><rect x="61.6" y="74.25" width="5.5" height="30.25" fill="#9BBB5C" stroke="#2b3618"/><rect x="61.6" y="104.5" width="5.5" height="30.25" fill="#F59E57" stroke="#4a2d16"/><rect x="61.6" y="134.75" width="5.5" height="30.25" fill="#4AACC6" stroke="#12323b"/><polygon points="61.6,44 67.1,44 92.6,33.1 87.1,33.1" fill="#AE9DC6" stroke="#2e2a3a"/><polygon points="84.55,44 110.05,33.1 110.05,63.35 84.55,74.25" fill="#AB9AC3" stroke="#2e2a3a"/><polygon points="84.55,74.25 110.05,63.35 110.05,93.6 84.55,104.5" fill="#9BBB5C" stroke="#2b3618"/><polygon points="84.55,104.5 110.05,93.6 110.05,123.85 84.55,134.75" fill="#F59E57" stroke="#4a2d16"/><polygon points="84.55,134.75 110.05,123.85 110.05,154.1 84.55,165" fill="#4AACC6" stroke="#12323b"/><rect x="79.05" y="44" width="5.5" height="30.25" fill="#AB9AC3" stroke="#2e2a3a"/><rect x="79.05" y="74.25" width="5.5" height="30.25" fill="#9BBB5C" stroke="#2b3618"/><rect x="79.05" y="104.5" width="5.5" height="30.25" fill="#F59E57" stroke="#4a2d16"/><rect x="79.05" y="134.75" width="5.5" height="30.25" fill="#4AACC6" stroke="#12323b"/><polygon points="79.05,44 84.55,44 110.05,33.1 104.55,33.1" fill="#AE9DC6" stroke="#2e2a3a"/><polygon points="102,44 127.5,33.1 127.5,63.35 102,74.25" fill="#AB9AC3" stroke="#2e2a3a"/><polygon points="102,74.25 127.5,63.35 127.5,93.6 102,104.5" fill="#9BBB5C" stroke="#2b3618"/><polygon points="102,104.5 127.5,93.6 127.5,123.85 102,134.75" fill="#F59E57" stroke="#4a2d16"/><polygon points="102,134.75 127.5,123.85 127.5,154.1 102,165" fill="#4AACC6" stroke="#12323b"/><rect x="96.5" y="44" width="5.5" height="30.25" fill="#AB9AC3" stroke="#2e2a3a"/><rect x="96.5" y="74.25" width="5.5" height="30.25" fill="#9BBB5C" stroke="#2b3618"/><rect x="96.5" y="104.5" width="5.5" height="30.25" fill="#F59E57" stroke="#4a2d16"/><rect x="96.5" y="134.75" width="5.5" height="30.25" fill="#4AACC6" stroke="#12323b"/><polygon points="96.5,44 102,44 127.5,33.1 122,33.1" fill="#AE9DC6" stroke="#2e2a3a"/><polygon points="119.45,44 144.95,33.1 144.95,63.35 119.45,74.25" fill="#AB9AC3" stroke="#2e2a3a"/><polygon points="119.45,74.25 144.95,63.35 144.95,93.6 119.45,104.5" fill="#9BBB5C" stroke="#2b3618"/><polygon points="119.45,104.5 144.95,93.6 144.95,123.85 119.45,134.75" fill="#F59E57" stroke="#4a2d16"/><polygon points="119.45,134.75 144.95,123.85 144.95,154.1 119.45,165" fill="#4AACC6" stroke="#12323b"/><rect x="113.95" y="44" width="5.5" height="30.25" fill="#AB9AC3" stroke="#2e2a3a"/><rect x="113.95" y="74.25" width="5.5" height="30.25" fill="#9BBB5C" stroke="#2b3618"/><rect x="113.95" y="104.5" width="5.5" height="30.25" fill="#F59E57" stroke="#4a2d16"/><rect x="113.95" y="134.75" width="5.5" height="30.25" fill="#4AACC6" stroke="#12323b"/><polygon points="113.95,44 119.45,44 144.95,33.1 139.45,33.1" fill="#AE9DC6" stroke="#2e2a3a"/><polygon points="136.9,44 162.4,33.1 162.4,63.35 136.9,74.25" fill="#AB9AC3" stroke="#2e2a3a"/><polygon points="136.9,74.25 162.4,63.35 162.4,93.6 136.9,104.5" fill="#9BBB5C" stroke="#2b3618"/><polygon points="136.9,104.5 162.4,93.6 162.4,123.85 136.9,134.75" fill="#F59E57" stroke="#4a2d16"/><polygon points="136.9,134.75 162.4,123.85 162.4,154.1 136.9,165" fill="#4AACC6" stroke="#12323b"/><rect x="131.4" y="44" width="5.5" height="30.25" fill="#AB9AC3" stroke="#2e2a3a"/><rect x="131.4" y="74.25" width="5.5" height="30.25" fill="#9BBB5C" stroke="#2b3618"/><rect x="131.4" y="104.5" width="5.5" height="30.25" fill="#F59E57" stroke="#4a2d16"/><rect x="131.4" y="134.75" width="5.5" height="30.25" fill="#4AACC6" stroke="#12323b"/><polygon points="131.4,44 136.9,44 162.4,33.1 156.9,33.1" fill="#AE9DC6" stroke="#2e2a3a"/><polygon points="154.35,44 179.85,33.1 179.85,63.35 154.35,74.25" fill="#AB9AC3" stroke="#2e2a3a"/><polygon points="154.35,74.25 179.85,63.35 179.85,93.6 154.35,104.5" fill="#9BBB5C" stroke="#2b3618"/><polygon points="154.35,104.5 179.85,93.6 179.85,123.85 154.35,134.75" fill="#F59E57" stroke="#4a2d16"/><polygon points="154.35,134.75 179.85,123.85 179.85,154.1 154.35,165" fill="#4AACC6" stroke="#12323b"/><rect x="148.85" y="44" width="5.5" height="30.25" fill="#AB9AC3" stroke="#2e2a3a"/><rect x="148.85" y="74.25" width="5.5" height="30.25" fill="#9BBB5C" stroke="#2b3618"/><rect x="148.85" y="104.5" width="5.5" height="30.25" fill="#F59E57" stroke="#4a2d16"/><rect x="148.85" y="134.75" width="5.5" height="30.25" fill="#4AACC6" stroke="#12323b"/><polygon points="148.85,44 154.35,44 179.85,33.1 174.35,33.1" fill="#AE9DC6" stroke="#2e2a3a"/></g>
<path d="M24.2,168.4 A8.9,8.9 0 0 0 33.1,177.3 H161.3 A8.9,8.9 0 0 0 170.2,168.4 M97.3,177.3 V186.4" fill="none" stroke="#151515" stroke-width="1.35"/>
<text y="200" font-size="14.4"><tspan x="19.85" textLength="59.3" lengthAdjust="spacingAndGlyphs">Network</tspan> <tspan x="83.55" textLength="43.4" lengthAdjust="spacingAndGlyphs">Layers</tspan> <tspan x="130.75" textLength="38.9" lengthAdjust="spacingAndGlyphs">24-31</tspan></text>
</g>
<text transform="translate(835.5,93.7) rotate(-90)" font-size="10" font-weight="bold" text-anchor="middle" textLength="24.6" lengthAdjust="spacingAndGlyphs">MP-0</text>
<text transform="translate(835.5,124.85) rotate(-90)" font-size="10" font-weight="bold" text-anchor="middle" textLength="24.6" lengthAdjust="spacingAndGlyphs">MP-1</text>
<text transform="translate(835.5,156) rotate(-90)" font-size="10" font-weight="bold" text-anchor="middle" textLength="24.6" lengthAdjust="spacingAndGlyphs">MP-2</text>
<text transform="translate(835.5,187.15) rotate(-90)" font-size="10" font-weight="bold" text-anchor="middle" textLength="24.6" lengthAdjust="spacingAndGlyphs">MP-3</text>
<g transform="translate(214,89.2)" stroke="#595959" stroke-width="0.7">
<polygon transform="translate(0,0)" points="0,0 6.8,-12.6 6.8,-6.3 57.5,-6.3 57.5,-12.6 64.3,0 57.5,12.6 57.5,6.3 6.8,6.3 6.8,12.6" fill="#AB9AC3"/>
<polygon transform="translate(0,30.6)" points="0,0 6.8,-12.6 6.8,-6.3 57.5,-6.3 57.5,-12.6 64.3,0 57.5,12.6 57.5,6.3 6.8,6.3 6.8,12.6" fill="#9BBB5C"/>
<polygon transform="translate(0,61.2)" points="0,0 6.8,-12.6 6.8,-6.3 57.5,-6.3 57.5,-12.6 64.3,0 57.5,12.6 57.5,6.3 6.8,6.3 6.8,12.6" fill="#F59E57"/>
<polygon transform="translate(0,91.8)" points="0,0 6.8,-12.6 6.8,-6.3 57.5,-6.3 57.5,-12.6 64.3,0 57.5,12.6 57.5,6.3 6.8,6.3 6.8,12.6" fill="#4AACC6"/>
</g>
<g transform="translate(481.5,89.3)" stroke="#595959" stroke-width="0.7">
<polygon transform="translate(0,0)" points="0,0 6.8,-12.6 6.8,-6.3 57.5,-6.3 57.5,-12.6 64.3,0 57.5,12.6 57.5,6.3 6.8,6.3 6.8,12.6" fill="#AB9AC3"/>
<polygon transform="translate(0,30.6)" points="0,0 6.8,-12.6 6.8,-6.3 57.5,-6.3 57.5,-12.6 64.3,0 57.5,12.6 57.5,6.3 6.8,6.3 6.8,12.6" fill="#9BBB5C"/>
<polygon transform="translate(0,61.2)" points="0,0 6.8,-12.6 6.8,-6.3 57.5,-6.3 57.5,-12.6 64.3,0 57.5,12.6 57.5,6.3 6.8,6.3 6.8,12.6" fill="#F59E57"/>
<polygon transform="translate(0,91.8)" points="0,0 6.8,-12.6 6.8,-6.3 57.5,-6.3 57.5,-12.6 64.3,0 57.5,12.6 57.5,6.3 6.8,6.3 6.8,12.6" fill="#4AACC6"/>
</g>
<g transform="translate(745.3,91.3)" stroke="#595959" stroke-width="0.7">
<polygon transform="translate(0,0)" points="0,0 6.8,-12.6 6.8,-6.3 57.5,-6.3 57.5,-12.6 64.3,0 57.5,12.6 57.5,6.3 6.8,6.3 6.8,12.6" fill="#AB9AC3"/>
<polygon transform="translate(0,30.6)" points="0,0 6.8,-12.6 6.8,-6.3 57.5,-6.3 57.5,-12.6 64.3,0 57.5,12.6 57.5,6.3 6.8,6.3 6.8,12.6" fill="#9BBB5C"/>
<polygon transform="translate(0,61.2)" points="0,0 6.8,-12.6 6.8,-6.3 57.5,-6.3 57.5,-12.6 64.3,0 57.5,12.6 57.5,6.3 6.8,6.3 6.8,12.6" fill="#F59E57"/>
<polygon transform="translate(0,91.8)" points="0,0 6.8,-12.6 6.8,-6.3 57.5,-6.3 57.5,-12.6 64.3,0 57.5,12.6 57.5,6.3 6.8,6.3 6.8,12.6" fill="#4AACC6"/>
</g>
<rect x="1.1" y="350.6" width="1021.2" height="263.5" rx="16.8" ry="16.8" fill="#EFEFEF" stroke="#858585" stroke-width="1"/>
<text y="378.6" font-size="19.7"><tspan x="421" textLength="41.5" lengthAdjust="spacingAndGlyphs">Data</tspan> <tspan x="469.9" textLength="66.3" lengthAdjust="spacingAndGlyphs">Parallel</tspan> <tspan x="542.8" textLength="43.4" lengthAdjust="spacingAndGlyphs">Rank</tspan> <tspan x="598.3" text-anchor="middle">1</tspan></text>
<g transform="translate(15.2,388.7)">
<rect x="0" y="0" width="195.4" height="208.2" rx="19" ry="19" fill="#F8DA82" stroke="#857a58" stroke-width="0.8"/>
<text y="22.5" font-size="19.6"><tspan x="25.2" textLength="72.4" lengthAdjust="spacingAndGlyphs">Pipeline</tspan> <tspan x="103.9" textLength="50.7" lengthAdjust="spacingAndGlyphs">Stage</tspan> <tspan x="165.3" text-anchor="middle">0</tspan></text>
<g stroke-width="0.72" stroke-linejoin="round"><polygon points="32.2,44 57.7,33.1 57.7,63.35 32.2,74.25" fill="#AB9AC3" stroke="#2e2a3a"/><polygon points="32.2,74.25 57.7,63.35 57.7,93.6 32.2,104.5" fill="#9BBB5C" stroke="#2b3618"/><polygon points="32.2,104.5 57.7,93.6 57.7,123.85 32.2,134.75" fill="#F59E57" stroke="#4a2d16"/><polygon points="32.2,134.75 57.7,123.85 57.7,154.1 32.2,165" fill="#4AACC6" stroke="#12323b"/><rect x="26.7" y="44" width="5.5" height="30.25" fill="#AB9AC3" stroke="#2e2a3a"/><rect x="26.7" y="74.25" width="5.5" height="30.25" fill="#9BBB5C" stroke="#2b3618"/><rect x="26.7" y="104.5" width="5.5" height="30.25" fill="#F59E57" stroke="#4a2d16"/><rect x="26.7" y="134.75" width="5.5" height="30.25" fill="#4AACC6" stroke="#12323b"/><polygon points="26.7,44 32.2,44 57.7,33.1 52.2,33.1" fill="#AE9DC6" stroke="#2e2a3a"/><polygon points="49.65,44 75.15,33.1 75.15,63.35 49.65,74.25" fill="#AB9AC3" stroke="#2e2a3a"/><polygon points="49.65,74.25 75.15,63.35 75.15,93.6 49.65,104.5" fill="#9BBB5C" stroke="#2b3618"/><polygon points="49.65,104.5 75.15,93.6 75.15,123.85 49.65,134.75" fill="#F59E57" stroke="#4a2d16"/><polygon points="49.65,134.75 75.15,123.85 75.15,154.1 49.65,165" fill="#4AACC6" stroke="#12323b"/><rect x="44.15" y="44" width="5.5" height="30.25" fill="#AB9AC3" stroke="#2e2a3a"/><rect x="44.15" y="74.25" width="5.5" height="30.25" fill="#9BBB5C" stroke="#2b3618"/><rect x="44.15" y="104.5" width="5.5" height="30.25" fill="#F59E57" stroke="#4a2d16"/><rect x="44.15" y="134.75" width="5.5" height="30.25" fill="#4AACC6" stroke="#12323b"/><polygon points="44.15,44 49.65,44 75.15,33.1 69.65,33.1" fill="#AE9DC6" stroke="#2e2a3a"/><polygon points="67.1,44 92.6,33.1 92.6,63.35 67.1,74.25" fill="#AB9AC3" stroke="#2e2a3a"/><polygon points="67.1,74.25 92.6,63.35 92.6,93.6 67.1,104.5" fill="#9BBB5C" stroke="#2b3618"/><polygon points="67.1,104.5 92.6,93.6 92.6,123.85 67.1,134.75" fill="#F59E57" stroke="#4a2d16"/><polygon points="67.1,134.75 92.6,123.85 92.6,154.1 67.1,165" fill="#4AACC6" stroke="#12323b"/><rect x="61.6" y="44" width="5.5" height="30.25" fill="#AB9AC3" stroke="#2e2a3a"/><rect x="61.6" y="74.25" width="5.5" height="30.25" fill="#9BBB5C" stroke="#2b3618"/><rect x="61.6" y="104.5" width="5.5" height="30.25" fill="#F59E57" stroke="#4a2d16"/><rect x="61.6" y="134.75" width="5.5" height="30.25" fill="#4AACC6" stroke="#12323b"/><polygon points="61.6,44 67.1,44 92.6,33.1 87.1,33.1" fill="#AE9DC6" stroke="#2e2a3a"/><polygon points="84.55,44 110.05,33.1 110.05,63.35 84.55,74.25" fill="#AB9AC3" stroke="#2e2a3a"/><polygon points="84.55,74.25 110.05,63.35 110.05,93.6 84.55,104.5" fill="#9BBB5C" stroke="#2b3618"/><polygon points="84.55,104.5 110.05,93.6 110.05,123.85 84.55,134.75" fill="#F59E57" stroke="#4a2d16"/><polygon points="84.55,134.75 110.05,123.85 110.05,154.1 84.55,165" fill="#4AACC6" stroke="#12323b"/><rect x="79.05" y="44" width="5.5" height="30.25" fill="#AB9AC3" stroke="#2e2a3a"/><rect x="79.05" y="74.25" width="5.5" height="30.25" fill="#9BBB5C" stroke="#2b3618"/><rect x="79.05" y="104.5" width="5.5" height="30.25" fill="#F59E57" stroke="#4a2d16"/><rect x="79.05" y="134.75" width="5.5" height="30.25" fill="#4AACC6" stroke="#12323b"/><polygon points="79.05,44 84.55,44 110.05,33.1 104.55,33.1" fill="#AE9DC6" stroke="#2e2a3a"/><polygon points="102,44 127.5,33.1 127.5,63.35 102,74.25" fill="#AB9AC3" stroke="#2e2a3a"/><polygon points="102,74.25 127.5,63.35 127.5,93.6 102,104.5" fill="#9BBB5C" stroke="#2b3618"/><polygon points="102,104.5 127.5,93.6 127.5,123.85 102,134.75" fill="#F59E57" stroke="#4a2d16"/><polygon points="102,134.75 127.5,123.85 127.5,154.1 102,165" fill="#4AACC6" stroke="#12323b"/><rect x="96.5" y="44" width="5.5" height="30.25" fill="#AB9AC3" stroke="#2e2a3a"/><rect x="96.5" y="74.25" width="5.5" height="30.25" fill="#9BBB5C" stroke="#2b3618"/><rect x="96.5" y="104.5" width="5.5" height="30.25" fill="#F59E57" stroke="#4a2d16"/><rect x="96.5" y="134.75" width="5.5" height="30.25" fill="#4AACC6" stroke="#12323b"/><polygon points="96.5,44 102,44 127.5,33.1 122,33.1" fill="#AE9DC6" stroke="#2e2a3a"/><polygon points="119.45,44 144.95,33.1 144.95,63.35 119.45,74.25" fill="#AB9AC3" stroke="#2e2a3a"/><polygon points="119.45,74.25 144.95,63.35 144.95,93.6 119.45,104.5" fill="#9BBB5C" stroke="#2b3618"/><polygon points="119.45,104.5 144.95,93.6 144.95,123.85 119.45,134.75" fill="#F59E57" stroke="#4a2d16"/><polygon points="119.45,134.75 144.95,123.85 144.95,154.1 119.45,165" fill="#4AACC6" stroke="#12323b"/><rect x="113.95" y="44" width="5.5" height="30.25" fill="#AB9AC3" stroke="#2e2a3a"/><rect x="113.95" y="74.25" width="5.5" height="30.25" fill="#9BBB5C" stroke="#2b3618"/><rect x="113.95" y="104.5" width="5.5" height="30.25" fill="#F59E57" stroke="#4a2d16"/><rect x="113.95" y="134.75" width="5.5" height="30.25" fill="#4AACC6" stroke="#12323b"/><polygon points="113.95,44 119.45,44 144.95,33.1 139.45,33.1" fill="#AE9DC6" stroke="#2e2a3a"/><polygon points="136.9,44 162.4,33.1 162.4,63.35 136.9,74.25" fill="#AB9AC3" stroke="#2e2a3a"/><polygon points="136.9,74.25 162.4,63.35 162.4,93.6 136.9,104.5" fill="#9BBB5C" stroke="#2b3618"/><polygon points="136.9,104.5 162.4,93.6 162.4,123.85 136.9,134.75" fill="#F59E57" stroke="#4a2d16"/><polygon points="136.9,134.75 162.4,123.85 162.4,154.1 136.9,165" fill="#4AACC6" stroke="#12323b"/><rect x="131.4" y="44" width="5.5" height="30.25" fill="#AB9AC3" stroke="#2e2a3a"/><rect x="131.4" y="74.25" width="5.5" height="30.25" fill="#9BBB5C" stroke="#2b3618"/><rect x="131.4" y="104.5" width="5.5" height="30.25" fill="#F59E57" stroke="#4a2d16"/><rect x="131.4" y="134.75" width="5.5" height="30.25" fill="#4AACC6" stroke="#12323b"/><polygon points="131.4,44 136.9,44 162.4,33.1 156.9,33.1" fill="#AE9DC6" stroke="#2e2a3a"/><polygon points="154.35,44 179.85,33.1 179.85,63.35 154.35,74.25" fill="#AB9AC3" stroke="#2e2a3a"/><polygon points="154.35,74.25 179.85,63.35 179.85,93.6 154.35,104.5" fill="#9BBB5C" stroke="#2b3618"/><polygon points="154.35,104.5 179.85,93.6 179.85,123.85 154.35,134.75" fill="#F59E57" stroke="#4a2d16"/><polygon points="154.35,134.75 179.85,123.85 179.85,154.1 154.35,165" fill="#4AACC6" stroke="#12323b"/><rect x="148.85" y="44" width="5.5" height="30.25" fill="#AB9AC3" stroke="#2e2a3a"/><rect x="148.85" y="74.25" width="5.5" height="30.25" fill="#9BBB5C" stroke="#2b3618"/><rect x="148.85" y="104.5" width="5.5" height="30.25" fill="#F59E57" stroke="#4a2d16"/><rect x="148.85" y="134.75" width="5.5" height="30.25" fill="#4AACC6" stroke="#12323b"/><polygon points="148.85,44 154.35,44 179.85,33.1 174.35,33.1" fill="#AE9DC6" stroke="#2e2a3a"/></g>
<path d="M24.2,168.4 A8.9,8.9 0 0 0 33.1,177.3 H161.3 A8.9,8.9 0 0 0 170.2,168.4 M97.3,177.3 V186.4" fill="none" stroke="#151515" stroke-width="1.35"/>
<text y="200" font-size="14.4"><tspan x="28.7" textLength="59.3" lengthAdjust="spacingAndGlyphs">Network</tspan> <tspan x="92.4" textLength="43.4" lengthAdjust="spacingAndGlyphs">Layers</tspan> <tspan x="139.6" textLength="22.8" lengthAdjust="spacingAndGlyphs">0-7</tspan></text>
</g>
<text transform="translate(37.3,450.5) rotate(-90)" font-size="10" font-weight="bold" text-anchor="middle" textLength="24.6" lengthAdjust="spacingAndGlyphs">MP-0</text>
<text transform="translate(37.3,481.4) rotate(-90)" font-size="10" font-weight="bold" text-anchor="middle" textLength="24.6" lengthAdjust="spacingAndGlyphs">MP-1</text>
<text transform="translate(37.3,512.3) rotate(-90)" font-size="10" font-weight="bold" text-anchor="middle" textLength="24.6" lengthAdjust="spacingAndGlyphs">MP-2</text>
<text transform="translate(37.3,543.2) rotate(-90)" font-size="10" font-weight="bold" text-anchor="middle" textLength="24.6" lengthAdjust="spacingAndGlyphs">MP-3</text>
<g transform="translate(283.2,393.1)">
<rect x="0" y="0" width="195.4" height="208.2" rx="19" ry="19" fill="#F8DA82" stroke="#857a58" stroke-width="0.8"/>
<text y="22.5" font-size="19.6"><tspan x="25.2" textLength="72.4" lengthAdjust="spacingAndGlyphs">Pipeline</tspan> <tspan x="103.9" textLength="50.7" lengthAdjust="spacingAndGlyphs">Stage</tspan> <tspan x="165.3" text-anchor="middle">1</tspan></text>
<g stroke-width="0.72" stroke-linejoin="round"><polygon points="32.2,44 57.7,33.1 57.7,63.35 32.2,74.25" fill="#AB9AC3" stroke="#2e2a3a"/><polygon points="32.2,74.25 57.7,63.35 57.7,93.6 32.2,104.5" fill="#9BBB5C" stroke="#2b3618"/><polygon points="32.2,104.5 57.7,93.6 57.7,123.85 32.2,134.75" fill="#F59E57" stroke="#4a2d16"/><polygon points="32.2,134.75 57.7,123.85 57.7,154.1 32.2,165" fill="#4AACC6" stroke="#12323b"/><rect x="26.7" y="44" width="5.5" height="30.25" fill="#AB9AC3" stroke="#2e2a3a"/><rect x="26.7" y="74.25" width="5.5" height="30.25" fill="#9BBB5C" stroke="#2b3618"/><rect x="26.7" y="104.5" width="5.5" height="30.25" fill="#F59E57" stroke="#4a2d16"/><rect x="26.7" y="134.75" width="5.5" height="30.25" fill="#4AACC6" stroke="#12323b"/><polygon points="26.7,44 32.2,44 57.7,33.1 52.2,33.1" fill="#AE9DC6" stroke="#2e2a3a"/><polygon points="49.65,44 75.15,33.1 75.15,63.35 49.65,74.25" fill="#AB9AC3" stroke="#2e2a3a"/><polygon points="49.65,74.25 75.15,63.35 75.15,93.6 49.65,104.5" fill="#9BBB5C" stroke="#2b3618"/><polygon points="49.65,104.5 75.15,93.6 75.15,123.85 49.65,134.75" fill="#F59E57" stroke="#4a2d16"/><polygon points="49.65,134.75 75.15,123.85 75.15,154.1 49.65,165" fill="#4AACC6" stroke="#12323b"/><rect x="44.15" y="44" width="5.5" height="30.25" fill="#AB9AC3" stroke="#2e2a3a"/><rect x="44.15" y="74.25" width="5.5" height="30.25" fill="#9BBB5C" stroke="#2b3618"/><rect x="44.15" y="104.5" width="5.5" height="30.25" fill="#F59E57" stroke="#4a2d16"/><rect x="44.15" y="134.75" width="5.5" height="30.25" fill="#4AACC6" stroke="#12323b"/><polygon points="44.15,44 49.65,44 75.15,33.1 69.65,33.1" fill="#AE9DC6" stroke="#2e2a3a"/><polygon points="67.1,44 92.6,33.1 92.6,63.35 67.1,74.25" fill="#AB9AC3" stroke="#2e2a3a"/><polygon points="67.1,74.25 92.6,63.35 92.6,93.6 67.1,104.5" fill="#9BBB5C" stroke="#2b3618"/><polygon points="67.1,104.5 92.6,93.6 92.6,123.85 67.1,134.75" fill="#F59E57" stroke="#4a2d16"/><polygon points="67.1,134.75 92.6,123.85 92.6,154.1 67.1,165" fill="#4AACC6" stroke="#12323b"/><rect x="61.6" y="44" width="5.5" height="30.25" fill="#AB9AC3" stroke="#2e2a3a"/><rect x="61.6" y="74.25" width="5.5" height="30.25" fill="#9BBB5C" stroke="#2b3618"/><rect x="61.6" y="104.5" width="5.5" height="30.25" fill="#F59E57" stroke="#4a2d16"/><rect x="61.6" y="134.75" width="5.5" height="30.25" fill="#4AACC6" stroke="#12323b"/><polygon points="61.6,44 67.1,44 92.6,33.1 87.1,33.1" fill="#AE9DC6" stroke="#2e2a3a"/><polygon points="84.55,44 110.05,33.1 110.05,63.35 84.55,74.25" fill="#AB9AC3" stroke="#2e2a3a"/><polygon points="84.55,74.25 110.05,63.35 110.05,93.6 84.55,104.5" fill="#9BBB5C" stroke="#2b3618"/><polygon points="84.55,104.5 110.05,93.6 110.05,123.85 84.55,134.75" fill="#F59E57" stroke="#4a2d16"/><polygon points="84.55,134.75 110.05,123.85 110.05,154.1 84.55,165" fill="#4AACC6" stroke="#12323b"/><rect x="79.05" y="44" width="5.5" height="30.25" fill="#AB9AC3" stroke="#2e2a3a"/><rect x="79.05" y="74.25" width="5.5" height="30.25" fill="#9BBB5C" stroke="#2b3618"/><rect x="79.05" y="104.5" width="5.5" height="30.25" fill="#F59E57" stroke="#4a2d16"/><rect x="79.05" y="134.75" width="5.5" height="30.25" fill="#4AACC6" stroke="#12323b"/><polygon points="79.05,44 84.55,44 110.05,33.1 104.55,33.1" fill="#AE9DC6" stroke="#2e2a3a"/><polygon points="102,44 127.5,33.1 127.5,63.35 102,74.25" fill="#AB9AC3" stroke="#2e2a3a"/><polygon points="102,74.25 127.5,63.35 127.5,93.6 102,104.5" fill="#9BBB5C" stroke="#2b3618"/><polygon points="102,104.5 127.5,93.6 127.5,123.85 102,134.75" fill="#F59E57" stroke="#4a2d16"/><polygon points="102,134.75 127.5,123.85 127.5,154.1 102,165" fill="#4AACC6" stroke="#12323b"/><rect x="96.5" y="44" width="5.5" height="30.25" fill="#AB9AC3" stroke="#2e2a3a"/><rect x="96.5" y="74.25" width="5.5" height="30.25" fill="#9BBB5C" stroke="#2b3618"/><rect x="96.5" y="104.5" width="5.5" height="30.25" fill="#F59E57" stroke="#4a2d16"/><rect x="96.5" y="134.75" width="5.5" height="30.25" fill="#4AACC6" stroke="#12323b"/><polygon points="96.5,44 102,44 127.5,33.1 122,33.1" fill="#AE9DC6" stroke="#2e2a3a"/><polygon points="119.45,44 144.95,33.1 144.95,63.35 119.45,74.25" fill="#AB9AC3" stroke="#2e2a3a"/><polygon points="119.45,74.25 144.95,63.35 144.95,93.6 119.45,104.5" fill="#9BBB5C" stroke="#2b3618"/><polygon points="119.45,104.5 144.95,93.6 144.95,123.85 119.45,134.75" fill="#F59E57" stroke="#4a2d16"/><polygon points="119.45,134.75 144.95,123.85 144.95,154.1 119.45,165" fill="#4AACC6" stroke="#12323b"/><rect x="113.95" y="44" width="5.5" height="30.25" fill="#AB9AC3" stroke="#2e2a3a"/><rect x="113.95" y="74.25" width="5.5" height="30.25" fill="#9BBB5C" stroke="#2b3618"/><rect x="113.95" y="104.5" width="5.5" height="30.25" fill="#F59E57" stroke="#4a2d16"/><rect x="113.95" y="134.75" width="5.5" height="30.25" fill="#4AACC6" stroke="#12323b"/><polygon points="113.95,44 119.45,44 144.95,33.1 139.45,33.1" fill="#AE9DC6" stroke="#2e2a3a"/><polygon points="136.9,44 162.4,33.1 162.4,63.35 136.9,74.25" fill="#AB9AC3" stroke="#2e2a3a"/><polygon points="136.9,74.25 162.4,63.35 162.4,93.6 136.9,104.5" fill="#9BBB5C" stroke="#2b3618"/><polygon points="136.9,104.5 162.4,93.6 162.4,123.85 136.9,134.75" fill="#F59E57" stroke="#4a2d16"/><polygon points="136.9,134.75 162.4,123.85 162.4,154.1 136.9,165" fill="#4AACC6" stroke="#12323b"/><rect x="131.4" y="44" width="5.5" height="30.25" fill="#AB9AC3" stroke="#2e2a3a"/><rect x="131.4" y="74.25" width="5.5" height="30.25" fill="#9BBB5C" stroke="#2b3618"/><rect x="131.4" y="104.5" width="5.5" height="30.25" fill="#F59E57" stroke="#4a2d16"/><rect x="131.4" y="134.75" width="5.5" height="30.25" fill="#4AACC6" stroke="#12323b"/><polygon points="131.4,44 136.9,44 162.4,33.1 156.9,33.1" fill="#AE9DC6" stroke="#2e2a3a"/><polygon points="154.35,44 179.85,33.1 179.85,63.35 154.35,74.25" fill="#AB9AC3" stroke="#2e2a3a"/><polygon points="154.35,74.25 179.85,63.35 179.85,93.6 154.35,104.5" fill="#9BBB5C" stroke="#2b3618"/><polygon points="154.35,104.5 179.85,93.6 179.85,123.85 154.35,134.75" fill="#F59E57" stroke="#4a2d16"/><polygon points="154.35,134.75 179.85,123.85 179.85,154.1 154.35,165" fill="#4AACC6" stroke="#12323b"/><rect x="148.85" y="44" width="5.5" height="30.25" fill="#AB9AC3" stroke="#2e2a3a"/><rect x="148.85" y="74.25" width="5.5" height="30.25" fill="#9BBB5C" stroke="#2b3618"/><rect x="148.85" y="104.5" width="5.5" height="30.25" fill="#F59E57" stroke="#4a2d16"/><rect x="148.85" y="134.75" width="5.5" height="30.25" fill="#4AACC6" stroke="#12323b"/><polygon points="148.85,44 154.35,44 179.85,33.1 174.35,33.1" fill="#AE9DC6" stroke="#2e2a3a"/></g>
<path d="M24.2,168.4 A8.9,8.9 0 0 0 33.1,177.3 H161.3 A8.9,8.9 0 0 0 170.2,168.4 M97.3,177.3 V186.4" fill="none" stroke="#151515" stroke-width="1.35"/>
<text y="200" font-size="14.4"><tspan x="24.4" textLength="59.3" lengthAdjust="spacingAndGlyphs">Network</tspan> <tspan x="88.1" textLength="43.4" lengthAdjust="spacingAndGlyphs">Layers</tspan> <tspan x="135.3" textLength="30.8" lengthAdjust="spacingAndGlyphs">8-15</tspan></text>
</g>
<text transform="translate(305.8,450.5) rotate(-90)" font-size="10" font-weight="bold" text-anchor="middle" textLength="24.6" lengthAdjust="spacingAndGlyphs">MP-0</text>
<text transform="translate(305.8,481.4) rotate(-90)" font-size="10" font-weight="bold" text-anchor="middle" textLength="24.6" lengthAdjust="spacingAndGlyphs">MP-1</text>
<text transform="translate(305.8,512.3) rotate(-90)" font-size="10" font-weight="bold" text-anchor="middle" textLength="24.6" lengthAdjust="spacingAndGlyphs">MP-2</text>
<text transform="translate(305.8,543.2) rotate(-90)" font-size="10" font-weight="bold" text-anchor="middle" textLength="24.6" lengthAdjust="spacingAndGlyphs">MP-3</text>
<g transform="translate(547.7,393.1)">
<rect x="0" y="0" width="195.4" height="208.2" rx="19" ry="19" fill="#F8DA82" stroke="#857a58" stroke-width="0.8"/>
<text y="22.5" font-size="19.6"><tspan x="25.2" textLength="72.4" lengthAdjust="spacingAndGlyphs">Pipeline</tspan> <tspan x="103.9" textLength="50.7" lengthAdjust="spacingAndGlyphs">Stage</tspan> <tspan x="165.3" text-anchor="middle">2</tspan></text>
<g stroke-width="0.72" stroke-linejoin="round"><polygon points="32.2,44 57.7,33.1 57.7,63.35 32.2,74.25" fill="#AB9AC3" stroke="#2e2a3a"/><polygon points="32.2,74.25 57.7,63.35 57.7,93.6 32.2,104.5" fill="#9BBB5C" stroke="#2b3618"/><polygon points="32.2,104.5 57.7,93.6 57.7,123.85 32.2,134.75" fill="#F59E57" stroke="#4a2d16"/><polygon points="32.2,134.75 57.7,123.85 57.7,154.1 32.2,165" fill="#4AACC6" stroke="#12323b"/><rect x="26.7" y="44" width="5.5" height="30.25" fill="#AB9AC3" stroke="#2e2a3a"/><rect x="26.7" y="74.25" width="5.5" height="30.25" fill="#9BBB5C" stroke="#2b3618"/><rect x="26.7" y="104.5" width="5.5" height="30.25" fill="#F59E57" stroke="#4a2d16"/><rect x="26.7" y="134.75" width="5.5" height="30.25" fill="#4AACC6" stroke="#12323b"/><polygon points="26.7,44 32.2,44 57.7,33.1 52.2,33.1" fill="#AE9DC6" stroke="#2e2a3a"/><polygon points="49.65,44 75.15,33.1 75.15,63.35 49.65,74.25" fill="#AB9AC3" stroke="#2e2a3a"/><polygon points="49.65,74.25 75.15,63.35 75.15,93.6 49.65,104.5" fill="#9BBB5C" stroke="#2b3618"/><polygon points="49.65,104.5 75.15,93.6 75.15,123.85 49.65,134.75" fill="#F59E57" stroke="#4a2d16"/><polygon points="49.65,134.75 75.15,123.85 75.15,154.1 49.65,165" fill="#4AACC6" stroke="#12323b"/><rect x="44.15" y="44" width="5.5" height="30.25" fill="#AB9AC3" stroke="#2e2a3a"/><rect x="44.15" y="74.25" width="5.5" height="30.25" fill="#9BBB5C" stroke="#2b3618"/><rect x="44.15" y="104.5" width="5.5" height="30.25" fill="#F59E57" stroke="#4a2d16"/><rect x="44.15" y="134.75" width="5.5" height="30.25" fill="#4AACC6" stroke="#12323b"/><polygon points="44.15,44 49.65,44 75.15,33.1 69.65,33.1" fill="#AE9DC6" stroke="#2e2a3a"/><polygon points="67.1,44 92.6,33.1 92.6,63.35 67.1,74.25" fill="#AB9AC3" stroke="#2e2a3a"/><polygon points="67.1,74.25 92.6,63.35 92.6,93.6 67.1,104.5" fill="#9BBB5C" stroke="#2b3618"/><polygon points="67.1,104.5 92.6,93.6 92.6,123.85 67.1,134.75" fill="#F59E57" stroke="#4a2d16"/><polygon points="67.1,134.75 92.6,123.85 92.6,154.1 67.1,165" fill="#4AACC6" stroke="#12323b"/><rect x="61.6" y="44" width="5.5" height="30.25" fill="#AB9AC3" stroke="#2e2a3a"/><rect x="61.6" y="74.25" width="5.5" height="30.25" fill="#9BBB5C" stroke="#2b3618"/><rect x="61.6" y="104.5" width="5.5" height="30.25" fill="#F59E57" stroke="#4a2d16"/><rect x="61.6" y="134.75" width="5.5" height="30.25" fill="#4AACC6" stroke="#12323b"/><polygon points="61.6,44 67.1,44 92.6,33.1 87.1,33.1" fill="#AE9DC6" stroke="#2e2a3a"/><polygon points="84.55,44 110.05,33.1 110.05,63.35 84.55,74.25" fill="#AB9AC3" stroke="#2e2a3a"/><polygon points="84.55,74.25 110.05,63.35 110.05,93.6 84.55,104.5" fill="#9BBB5C" stroke="#2b3618"/><polygon points="84.55,104.5 110.05,93.6 110.05,123.85 84.55,134.75" fill="#F59E57" stroke="#4a2d16"/><polygon points="84.55,134.75 110.05,123.85 110.05,154.1 84.55,165" fill="#4AACC6" stroke="#12323b"/><rect x="79.05" y="44" width="5.5" height="30.25" fill="#AB9AC3" stroke="#2e2a3a"/><rect x="79.05" y="74.25" width="5.5" height="30.25" fill="#9BBB5C" stroke="#2b3618"/><rect x="79.05" y="104.5" width="5.5" height="30.25" fill="#F59E57" stroke="#4a2d16"/><rect x="79.05" y="134.75" width="5.5" height="30.25" fill="#4AACC6" stroke="#12323b"/><polygon points="79.05,44 84.55,44 110.05,33.1 104.55,33.1" fill="#AE9DC6" stroke="#2e2a3a"/><polygon points="102,44 127.5,33.1 127.5,63.35 102,74.25" fill="#AB9AC3" stroke="#2e2a3a"/><polygon points="102,74.25 127.5,63.35 127.5,93.6 102,104.5" fill="#9BBB5C" stroke="#2b3618"/><polygon points="102,104.5 127.5,93.6 127.5,123.85 102,134.75" fill="#F59E57" stroke="#4a2d16"/><polygon points="102,134.75 127.5,123.85 127.5,154.1 102,165" fill="#4AACC6" stroke="#12323b"/><rect x="96.5" y="44" width="5.5" height="30.25" fill="#AB9AC3" stroke="#2e2a3a"/><rect x="96.5" y="74.25" width="5.5" height="30.25" fill="#9BBB5C" stroke="#2b3618"/><rect x="96.5" y="104.5" width="5.5" height="30.25" fill="#F59E57" stroke="#4a2d16"/><rect x="96.5" y="134.75" width="5.5" height="30.25" fill="#4AACC6" stroke="#12323b"/><polygon points="96.5,44 102,44 127.5,33.1 122,33.1" fill="#AE9DC6" stroke="#2e2a3a"/><polygon points="119.45,44 144.95,33.1 144.95,63.35 119.45,74.25" fill="#AB9AC3" stroke="#2e2a3a"/><polygon points="119.45,74.25 144.95,63.35 144.95,93.6 119.45,104.5" fill="#9BBB5C" stroke="#2b3618"/><polygon points="119.45,104.5 144.95,93.6 144.95,123.85 119.45,134.75" fill="#F59E57" stroke="#4a2d16"/><polygon points="119.45,134.75 144.95,123.85 144.95,154.1 119.45,165" fill="#4AACC6" stroke="#12323b"/><rect x="113.95" y="44" width="5.5" height="30.25" fill="#AB9AC3" stroke="#2e2a3a"/><rect x="113.95" y="74.25" width="5.5" height="30.25" fill="#9BBB5C" stroke="#2b3618"/><rect x="113.95" y="104.5" width="5.5" height="30.25" fill="#F59E57" stroke="#4a2d16"/><rect x="113.95" y="134.75" width="5.5" height="30.25" fill="#4AACC6" stroke="#12323b"/><polygon points="113.95,44 119.45,44 144.95,33.1 139.45,33.1" fill="#AE9DC6" stroke="#2e2a3a"/><polygon points="136.9,44 162.4,33.1 162.4,63.35 136.9,74.25" fill="#AB9AC3" stroke="#2e2a3a"/><polygon points="136.9,74.25 162.4,63.35 162.4,93.6 136.9,104.5" fill="#9BBB5C" stroke="#2b3618"/><polygon points="136.9,104.5 162.4,93.6 162.4,123.85 136.9,134.75" fill="#F59E57" stroke="#4a2d16"/><polygon points="136.9,134.75 162.4,123.85 162.4,154.1 136.9,165" fill="#4AACC6" stroke="#12323b"/><rect x="131.4" y="44" width="5.5" height="30.25" fill="#AB9AC3" stroke="#2e2a3a"/><rect x="131.4" y="74.25" width="5.5" height="30.25" fill="#9BBB5C" stroke="#2b3618"/><rect x="131.4" y="104.5" width="5.5" height="30.25" fill="#F59E57" stroke="#4a2d16"/><rect x="131.4" y="134.75" width="5.5" height="30.25" fill="#4AACC6" stroke="#12323b"/><polygon points="131.4,44 136.9,44 162.4,33.1 156.9,33.1" fill="#AE9DC6" stroke="#2e2a3a"/><polygon points="154.35,44 179.85,33.1 179.85,63.35 154.35,74.25" fill="#AB9AC3" stroke="#2e2a3a"/><polygon points="154.35,74.25 179.85,63.35 179.85,93.6 154.35,104.5" fill="#9BBB5C" stroke="#2b3618"/><polygon points="154.35,104.5 179.85,93.6 179.85,123.85 154.35,134.75" fill="#F59E57" stroke="#4a2d16"/><polygon points="154.35,134.75 179.85,123.85 179.85,154.1 154.35,165" fill="#4AACC6" stroke="#12323b"/><rect x="148.85" y="44" width="5.5" height="30.25" fill="#AB9AC3" stroke="#2e2a3a"/><rect x="148.85" y="74.25" width="5.5" height="30.25" fill="#9BBB5C" stroke="#2b3618"/><rect x="148.85" y="104.5" width="5.5" height="30.25" fill="#F59E57" stroke="#4a2d16"/><rect x="148.85" y="134.75" width="5.5" height="30.25" fill="#4AACC6" stroke="#12323b"/><polygon points="148.85,44 154.35,44 179.85,33.1 174.35,33.1" fill="#AE9DC6" stroke="#2e2a3a"/></g>
<path d="M24.2,168.4 A8.9,8.9 0 0 0 33.1,177.3 H161.3 A8.9,8.9 0 0 0 170.2,168.4 M97.3,177.3 V186.4" fill="none" stroke="#151515" stroke-width="1.35"/>
<text y="200" font-size="14.4"><tspan x="19.85" textLength="59.3" lengthAdjust="spacingAndGlyphs">Network</tspan> <tspan x="83.55" textLength="43.4" lengthAdjust="spacingAndGlyphs">Layers</tspan> <tspan x="130.75" textLength="38.9" lengthAdjust="spacingAndGlyphs">16-23</tspan></text>
</g>
<text transform="translate(569.2,450.5) rotate(-90)" font-size="10" font-weight="bold" text-anchor="middle" textLength="24.6" lengthAdjust="spacingAndGlyphs">MP-0</text>
<text transform="translate(569.2,481.4) rotate(-90)" font-size="10" font-weight="bold" text-anchor="middle" textLength="24.6" lengthAdjust="spacingAndGlyphs">MP-1</text>
<text transform="translate(569.2,512.3) rotate(-90)" font-size="10" font-weight="bold" text-anchor="middle" textLength="24.6" lengthAdjust="spacingAndGlyphs">MP-2</text>
<text transform="translate(569.2,543.2) rotate(-90)" font-size="10" font-weight="bold" text-anchor="middle" textLength="24.6" lengthAdjust="spacingAndGlyphs">MP-3</text>
<g transform="translate(811.8,395.1)">
<rect x="0" y="0" width="195.4" height="208.2" rx="19" ry="19" fill="#F8DA82" stroke="#857a58" stroke-width="0.8"/>
<text y="22.5" font-size="19.6"><tspan x="25.2" textLength="72.4" lengthAdjust="spacingAndGlyphs">Pipeline</tspan> <tspan x="103.9" textLength="50.7" lengthAdjust="spacingAndGlyphs">Stage</tspan> <tspan x="165.3" text-anchor="middle">3</tspan></text>
<g stroke-width="0.72" stroke-linejoin="round"><polygon points="32.2,44 57.7,33.1 57.7,63.35 32.2,74.25" fill="#AB9AC3" stroke="#2e2a3a"/><polygon points="32.2,74.25 57.7,63.35 57.7,93.6 32.2,104.5" fill="#9BBB5C" stroke="#2b3618"/><polygon points="32.2,104.5 57.7,93.6 57.7,123.85 32.2,134.75" fill="#F59E57" stroke="#4a2d16"/><polygon points="32.2,134.75 57.7,123.85 57.7,154.1 32.2,165" fill="#4AACC6" stroke="#12323b"/><rect x="26.7" y="44" width="5.5" height="30.25" fill="#AB9AC3" stroke="#2e2a3a"/><rect x="26.7" y="74.25" width="5.5" height="30.25" fill="#9BBB5C" stroke="#2b3618"/><rect x="26.7" y="104.5" width="5.5" height="30.25" fill="#F59E57" stroke="#4a2d16"/><rect x="26.7" y="134.75" width="5.5" height="30.25" fill="#4AACC6" stroke="#12323b"/><polygon points="26.7,44 32.2,44 57.7,33.1 52.2,33.1" fill="#AE9DC6" stroke="#2e2a3a"/><polygon points="49.65,44 75.15,33.1 75.15,63.35 49.65,74.25" fill="#AB9AC3" stroke="#2e2a3a"/><polygon points="49.65,74.25 75.15,63.35 75.15,93.6 49.65,104.5" fill="#9BBB5C" stroke="#2b3618"/><polygon points="49.65,104.5 75.15,93.6 75.15,123.85 49.65,134.75" fill="#F59E57" stroke="#4a2d16"/><polygon points="49.65,134.75 75.15,123.85 75.15,154.1 49.65,165" fill="#4AACC6" stroke="#12323b"/><rect x="44.15" y="44" width="5.5" height="30.25" fill="#AB9AC3" stroke="#2e2a3a"/><rect x="44.15" y="74.25" width="5.5" height="30.25" fill="#9BBB5C" stroke="#2b3618"/><rect x="44.15" y="104.5" width="5.5" height="30.25" fill="#F59E57" stroke="#4a2d16"/><rect x="44.15" y="134.75" width="5.5" height="30.25" fill="#4AACC6" stroke="#12323b"/><polygon points="44.15,44 49.65,44 75.15,33.1 69.65,33.1" fill="#AE9DC6" stroke="#2e2a3a"/><polygon points="67.1,44 92.6,33.1 92.6,63.35 67.1,74.25" fill="#AB9AC3" stroke="#2e2a3a"/><polygon points="67.1,74.25 92.6,63.35 92.6,93.6 67.1,104.5" fill="#9BBB5C" stroke="#2b3618"/><polygon points="67.1,104.5 92.6,93.6 92.6,123.85 67.1,134.75" fill="#F59E57" stroke="#4a2d16"/><polygon points="67.1,134.75 92.6,123.85 92.6,154.1 67.1,165" fill="#4AACC6" stroke="#12323b"/><rect x="61.6" y="44" width="5.5" height="30.25" fill="#AB9AC3" stroke="#2e2a3a"/><rect x="61.6" y="74.25" width="5.5" height="30.25" fill="#9BBB5C" stroke="#2b3618"/><rect x="61.6" y="104.5" width="5.5" height="30.25" fill="#F59E57" stroke="#4a2d16"/><rect x="61.6" y="134.75" width="5.5" height="30.25" fill="#4AACC6" stroke="#12323b"/><polygon points="61.6,44 67.1,44 92.6,33.1 87.1,33.1" fill="#AE9DC6" stroke="#2e2a3a"/><polygon points="84.55,44 110.05,33.1 110.05,63.35 84.55,74.25" fill="#AB9AC3" stroke="#2e2a3a"/><polygon points="84.55,74.25 110.05,63.35 110.05,93.6 84.55,104.5" fill="#9BBB5C" stroke="#2b3618"/><polygon points="84.55,104.5 110.05,93.6 110.05,123.85 84.55,134.75" fill="#F59E57" stroke="#4a2d16"/><polygon points="84.55,134.75 110.05,123.85 110.05,154.1 84.55,165" fill="#4AACC6" stroke="#12323b"/><rect x="79.05" y="44" width="5.5" height="30.25" fill="#AB9AC3" stroke="#2e2a3a"/><rect x="79.05" y="74.25" width="5.5" height="30.25" fill="#9BBB5C" stroke="#2b3618"/><rect x="79.05" y="104.5" width="5.5" height="30.25" fill="#F59E57" stroke="#4a2d16"/><rect x="79.05" y="134.75" width="5.5" height="30.25" fill="#4AACC6" stroke="#12323b"/><polygon points="79.05,44 84.55,44 110.05,33.1 104.55,33.1" fill="#AE9DC6" stroke="#2e2a3a"/><polygon points="102,44 127.5,33.1 127.5,63.35 102,74.25" fill="#AB9AC3" stroke="#2e2a3a"/><polygon points="102,74.25 127.5,63.35 127.5,93.6 102,104.5" fill="#9BBB5C" stroke="#2b3618"/><polygon points="102,104.5 127.5,93.6 127.5,123.85 102,134.75" fill="#F59E57" stroke="#4a2d16"/><polygon points="102,134.75 127.5,123.85 127.5,154.1 102,165" fill="#4AACC6" stroke="#12323b"/><rect x="96.5" y="44" width="5.5" height="30.25" fill="#AB9AC3" stroke="#2e2a3a"/><rect x="96.5" y="74.25" width="5.5" height="30.25" fill="#9BBB5C" stroke="#2b3618"/><rect x="96.5" y="104.5" width="5.5" height="30.25" fill="#F59E57" stroke="#4a2d16"/><rect x="96.5" y="134.75" width="5.5" height="30.25" fill="#4AACC6" stroke="#12323b"/><polygon points="96.5,44 102,44 127.5,33.1 122,33.1" fill="#AE9DC6" stroke="#2e2a3a"/><polygon points="119.45,44 144.95,33.1 144.95,63.35 119.45,74.25" fill="#AB9AC3" stroke="#2e2a3a"/><polygon points="119.45,74.25 144.95,63.35 144.95,93.6 119.45,104.5" fill="#9BBB5C" stroke="#2b3618"/><polygon points="119.45,104.5 144.95,93.6 144.95,123.85 119.45,134.75" fill="#F59E57" stroke="#4a2d16"/><polygon points="119.45,134.75 144.95,123.85 144.95,154.1 119.45,165" fill="#4AACC6" stroke="#12323b"/><rect x="113.95" y="44" width="5.5" height="30.25" fill="#AB9AC3" stroke="#2e2a3a"/><rect x="113.95" y="74.25" width="5.5" height="30.25" fill="#9BBB5C" stroke="#2b3618"/><rect x="113.95" y="104.5" width="5.5" height="30.25" fill="#F59E57" stroke="#4a2d16"/><rect x="113.95" y="134.75" width="5.5" height="30.25" fill="#4AACC6" stroke="#12323b"/><polygon points="113.95,44 119.45,44 144.95,33.1 139.45,33.1" fill="#AE9DC6" stroke="#2e2a3a"/><polygon points="136.9,44 162.4,33.1 162.4,63.35 136.9,74.25" fill="#AB9AC3" stroke="#2e2a3a"/><polygon points="136.9,74.25 162.4,63.35 162.4,93.6 136.9,104.5" fill="#9BBB5C" stroke="#2b3618"/><polygon points="136.9,104.5 162.4,93.6 162.4,123.85 136.9,134.75" fill="#F59E57" stroke="#4a2d16"/><polygon points="136.9,134.75 162.4,123.85 162.4,154.1 136.9,165" fill="#4AACC6" stroke="#12323b"/><rect x="131.4" y="44" width="5.5" height="30.25" fill="#AB9AC3" stroke="#2e2a3a"/><rect x="131.4" y="74.25" width="5.5" height="30.25" fill="#9BBB5C" stroke="#2b3618"/><rect x="131.4" y="104.5" width="5.5" height="30.25" fill="#F59E57" stroke="#4a2d16"/><rect x="131.4" y="134.75" width="5.5" height="30.25" fill="#4AACC6" stroke="#12323b"/><polygon points="131.4,44 136.9,44 162.4,33.1 156.9,33.1" fill="#AE9DC6" stroke="#2e2a3a"/><polygon points="154.35,44 179.85,33.1 179.85,63.35 154.35,74.25" fill="#AB9AC3" stroke="#2e2a3a"/><polygon points="154.35,74.25 179.85,63.35 179.85,93.6 154.35,104.5" fill="#9BBB5C" stroke="#2b3618"/><polygon points="154.35,104.5 179.85,93.6 179.85,123.85 154.35,134.75" fill="#F59E57" stroke="#4a2d16"/><polygon points="154.35,134.75 179.85,123.85 179.85,154.1 154.35,165" fill="#4AACC6" stroke="#12323b"/><rect x="148.85" y="44" width="5.5" height="30.25" fill="#AB9AC3" stroke="#2e2a3a"/><rect x="148.85" y="74.25" width="5.5" height="30.25" fill="#9BBB5C" stroke="#2b3618"/><rect x="148.85" y="104.5" width="5.5" height="30.25" fill="#F59E57" stroke="#4a2d16"/><rect x="148.85" y="134.75" width="5.5" height="30.25" fill="#4AACC6" stroke="#12323b"/><polygon points="148.85,44 154.35,44 179.85,33.1 174.35,33.1" fill="#AE9DC6" stroke="#2e2a3a"/></g>
<path d="M24.2,168.4 A8.9,8.9 0 0 0 33.1,177.3 H161.3 A8.9,8.9 0 0 0 170.2,168.4 M97.3,177.3 V186.4" fill="none" stroke="#151515" stroke-width="1.35"/>
<text y="200" font-size="14.4"><tspan x="19.85" textLength="59.3" lengthAdjust="spacingAndGlyphs">Network</tspan> <tspan x="83.55" textLength="43.4" lengthAdjust="spacingAndGlyphs">Layers</tspan> <tspan x="130.75" textLength="38.9" lengthAdjust="spacingAndGlyphs">24-31</tspan></text>
</g>
<text transform="translate(832.3,450.5) rotate(-90)" font-size="10" font-weight="bold" text-anchor="middle" textLength="24.6" lengthAdjust="spacingAndGlyphs">MP-0</text>
<text transform="translate(832.3,481.4) rotate(-90)" font-size="10" font-weight="bold" text-anchor="middle" textLength="24.6" lengthAdjust="spacingAndGlyphs">MP-1</text>
<text transform="translate(832.3,512.3) rotate(-90)" font-size="10" font-weight="bold" text-anchor="middle" textLength="24.6" lengthAdjust="spacingAndGlyphs">MP-2</text>
<text transform="translate(832.3,543.2) rotate(-90)" font-size="10" font-weight="bold" text-anchor="middle" textLength="24.6" lengthAdjust="spacingAndGlyphs">MP-3</text>
<g transform="translate(213.3,445.6)" stroke="#595959" stroke-width="0.7">
<polygon transform="translate(0,0)" points="0,0 6.8,-12.6 6.8,-6.3 57.5,-6.3 57.5,-12.6 64.3,0 57.5,12.6 57.5,6.3 6.8,6.3 6.8,12.6" fill="#AB9AC3"/>
<polygon transform="translate(0,30.6)" points="0,0 6.8,-12.6 6.8,-6.3 57.5,-6.3 57.5,-12.6 64.3,0 57.5,12.6 57.5,6.3 6.8,6.3 6.8,12.6" fill="#9BBB5C"/>
<polygon transform="translate(0,61.2)" points="0,0 6.8,-12.6 6.8,-6.3 57.5,-6.3 57.5,-12.6 64.3,0 57.5,12.6 57.5,6.3 6.8,6.3 6.8,12.6" fill="#F59E57"/>
<polygon transform="translate(0,91.8)" points="0,0 6.8,-12.6 6.8,-6.3 57.5,-6.3 57.5,-12.6 64.3,0 57.5,12.6 57.5,6.3 6.8,6.3 6.8,12.6" fill="#4AACC6"/>
</g>
<g transform="translate(480.6,445.7)" stroke="#595959" stroke-width="0.7">
<polygon transform="translate(0,0)" points="0,0 6.8,-12.6 6.8,-6.3 57.5,-6.3 57.5,-12.6 64.3,0 57.5,12.6 57.5,6.3 6.8,6.3 6.8,12.6" fill="#AB9AC3"/>
<polygon transform="translate(0,30.6)" points="0,0 6.8,-12.6 6.8,-6.3 57.5,-6.3 57.5,-12.6 64.3,0 57.5,12.6 57.5,6.3 6.8,6.3 6.8,12.6" fill="#9BBB5C"/>
<polygon transform="translate(0,61.2)" points="0,0 6.8,-12.6 6.8,-6.3 57.5,-6.3 57.5,-12.6 64.3,0 57.5,12.6 57.5,6.3 6.8,6.3 6.8,12.6" fill="#F59E57"/>
<polygon transform="translate(0,91.8)" points="0,0 6.8,-12.6 6.8,-6.3 57.5,-6.3 57.5,-12.6 64.3,0 57.5,12.6 57.5,6.3 6.8,6.3 6.8,12.6" fill="#4AACC6"/>
</g>
<g transform="translate(744.4,447.8)" stroke="#595959" stroke-width="0.7">
<polygon transform="translate(0,0)" points="0,0 6.8,-12.6 6.8,-6.3 57.5,-6.3 57.5,-12.6 64.3,0 57.5,12.6 57.5,6.3 6.8,6.3 6.8,12.6" fill="#AB9AC3"/>
<polygon transform="translate(0,30.6)" points="0,0 6.8,-12.6 6.8,-6.3 57.5,-6.3 57.5,-12.6 64.3,0 57.5,12.6 57.5,6.3 6.8,6.3 6.8,12.6" fill="#9BBB5C"/>
<polygon transform="translate(0,61.2)" points="0,0 6.8,-12.6 6.8,-6.3 57.5,-6.3 57.5,-12.6 64.3,0 57.5,12.6 57.5,6.3 6.8,6.3 6.8,12.6" fill="#F59E57"/>
<polygon transform="translate(0,91.8)" points="0,0 6.8,-12.6 6.8,-6.3 57.5,-6.3 57.5,-12.6 64.3,0 57.5,12.6 57.5,6.3 6.8,6.3 6.8,12.6" fill="#4AACC6"/>
</g>
<polygon transform="translate(43.8,266)" points="0,0 22.6,11.6 11.8,11.6 11.8,69.1 22.6,69.1 0,80.7 -22.6,69.1 -11.8,69.1 -11.8,11.6 -22.6,11.6" fill="#AB9AC3" stroke="#595959" stroke-width="0.7"/>
<text transform="translate(49,306.3) rotate(-90)" font-size="14.4" text-anchor="middle" textLength="31.6" lengthAdjust="spacingAndGlyphs">ZeRO</text>
<polygon transform="translate(93.1,266)" points="0,0 22.6,11.6 11.8,11.6 11.8,69.1 22.6,69.1 0,80.7 -22.6,69.1 -11.8,69.1 -11.8,11.6 -22.6,11.6" fill="#9BBB5C" stroke="#595959" stroke-width="0.7"/>
<text transform="translate(98.3,306.3) rotate(-90)" font-size="14.4" text-anchor="middle" textLength="31.6" lengthAdjust="spacingAndGlyphs">ZeRO</text>
<polygon transform="translate(142.4,266)" points="0,0 22.6,11.6 11.8,11.6 11.8,69.1 22.6,69.1 0,80.7 -22.6,69.1 -11.8,69.1 -11.8,11.6 -22.6,11.6" fill="#F59E57" stroke="#595959" stroke-width="0.7"/>
<text transform="translate(147.6,306.3) rotate(-90)" font-size="14.4" text-anchor="middle" textLength="31.6" lengthAdjust="spacingAndGlyphs">ZeRO</text>
<polygon transform="translate(191.7,266)" points="0,0 22.6,11.6 11.8,11.6 11.8,69.1 22.6,69.1 0,80.7 -22.6,69.1 -11.8,69.1 -11.8,11.6 -22.6,11.6" fill="#4AACC6" stroke="#595959" stroke-width="0.7"/>
<text transform="translate(196.9,306.3) rotate(-90)" font-size="14.4" text-anchor="middle" textLength="31.6" lengthAdjust="spacingAndGlyphs">ZeRO</text>
<polygon transform="translate(306.8,266)" points="0,0 22.6,11.6 11.8,11.6 11.8,69.1 22.6,69.1 0,80.7 -22.6,69.1 -11.8,69.1 -11.8,11.6 -22.6,11.6" fill="#AB9AC3" stroke="#595959" stroke-width="0.7"/>
<text transform="translate(312,306.3) rotate(-90)" font-size="14.4" text-anchor="middle" textLength="31.6" lengthAdjust="spacingAndGlyphs">ZeRO</text>
<polygon transform="translate(356.1,266)" points="0,0 22.6,11.6 11.8,11.6 11.8,69.1 22.6,69.1 0,80.7 -22.6,69.1 -11.8,69.1 -11.8,11.6 -22.6,11.6" fill="#9BBB5C" stroke="#595959" stroke-width="0.7"/>
<text transform="translate(361.3,306.3) rotate(-90)" font-size="14.4" text-anchor="middle" textLength="31.6" lengthAdjust="spacingAndGlyphs">ZeRO</text>
<polygon transform="translate(405.4,266)" points="0,0 22.6,11.6 11.8,11.6 11.8,69.1 22.6,69.1 0,80.7 -22.6,69.1 -11.8,69.1 -11.8,11.6 -22.6,11.6" fill="#F59E57" stroke="#595959" stroke-width="0.7"/>
<text transform="translate(410.6,306.3) rotate(-90)" font-size="14.4" text-anchor="middle" textLength="31.6" lengthAdjust="spacingAndGlyphs">ZeRO</text>
<polygon transform="translate(454.7,266)" points="0,0 22.6,11.6 11.8,11.6 11.8,69.1 22.6,69.1 0,80.7 -22.6,69.1 -11.8,69.1 -11.8,11.6 -22.6,11.6" fill="#4AACC6" stroke="#595959" stroke-width="0.7"/>
<text transform="translate(459.9,306.3) rotate(-90)" font-size="14.4" text-anchor="middle" textLength="31.6" lengthAdjust="spacingAndGlyphs">ZeRO</text>
<polygon transform="translate(570.1,268.2)" points="0,0 22.6,11.6 11.8,11.6 11.8,69.1 22.6,69.1 0,80.7 -22.6,69.1 -11.8,69.1 -11.8,11.6 -22.6,11.6" fill="#AB9AC3" stroke="#595959" stroke-width="0.7"/>
<text transform="translate(575.3,308.5) rotate(-90)" font-size="14.4" text-anchor="middle" textLength="31.6" lengthAdjust="spacingAndGlyphs">ZeRO</text>
<polygon transform="translate(619.4,268.2)" points="0,0 22.6,11.6 11.8,11.6 11.8,69.1 22.6,69.1 0,80.7 -22.6,69.1 -11.8,69.1 -11.8,11.6 -22.6,11.6" fill="#9BBB5C" stroke="#595959" stroke-width="0.7"/>
<text transform="translate(624.6,308.5) rotate(-90)" font-size="14.4" text-anchor="middle" textLength="31.6" lengthAdjust="spacingAndGlyphs">ZeRO</text>
<polygon transform="translate(668.7,268.2)" points="0,0 22.6,11.6 11.8,11.6 11.8,69.1 22.6,69.1 0,80.7 -22.6,69.1 -11.8,69.1 -11.8,11.6 -22.6,11.6" fill="#F59E57" stroke="#595959" stroke-width="0.7"/>
<text transform="translate(673.9,308.5) rotate(-90)" font-size="14.4" text-anchor="middle" textLength="31.6" lengthAdjust="spacingAndGlyphs">ZeRO</text>
<polygon transform="translate(718,268.2)" points="0,0 22.6,11.6 11.8,11.6 11.8,69.1 22.6,69.1 0,80.7 -22.6,69.1 -11.8,69.1 -11.8,11.6 -22.6,11.6" fill="#4AACC6" stroke="#595959" stroke-width="0.7"/>
<text transform="translate(723.2,308.5) rotate(-90)" font-size="14.4" text-anchor="middle" textLength="31.6" lengthAdjust="spacingAndGlyphs">ZeRO</text>
<polygon transform="translate(833.2,266)" points="0,0 22.6,11.6 11.8,11.6 11.8,69.1 22.6,69.1 0,80.7 -22.6,69.1 -11.8,69.1 -11.8,11.6 -22.6,11.6" fill="#AB9AC3" stroke="#595959" stroke-width="0.7"/>
<text transform="translate(838.4,306.3) rotate(-90)" font-size="14.4" text-anchor="middle" textLength="31.6" lengthAdjust="spacingAndGlyphs">ZeRO</text>
<polygon transform="translate(882.5,266)" points="0,0 22.6,11.6 11.8,11.6 11.8,69.1 22.6,69.1 0,80.7 -22.6,69.1 -11.8,69.1 -11.8,11.6 -22.6,11.6" fill="#9BBB5C" stroke="#595959" stroke-width="0.7"/>
<text transform="translate(887.7,306.3) rotate(-90)" font-size="14.4" text-anchor="middle" textLength="31.6" lengthAdjust="spacingAndGlyphs">ZeRO</text>
<polygon transform="translate(931.8,266)" points="0,0 22.6,11.6 11.8,11.6 11.8,69.1 22.6,69.1 0,80.7 -22.6,69.1 -11.8,69.1 -11.8,11.6 -22.6,11.6" fill="#F59E57" stroke="#595959" stroke-width="0.7"/>
<text transform="translate(937,306.3) rotate(-90)" font-size="14.4" text-anchor="middle" textLength="31.6" lengthAdjust="spacingAndGlyphs">ZeRO</text>
<polygon transform="translate(981.1,266)" points="0,0 22.6,11.6 11.8,11.6 11.8,69.1 22.6,69.1 0,80.7 -22.6,69.1 -11.8,69.1 -11.8,11.6 -22.6,11.6" fill="#4AACC6" stroke="#595959" stroke-width="0.7"/>
<text transform="translate(986.3,306.3) rotate(-90)" font-size="14.4" text-anchor="middle" textLength="31.6" lengthAdjust="spacingAndGlyphs">ZeRO</text>
</svg>
</body></html>
